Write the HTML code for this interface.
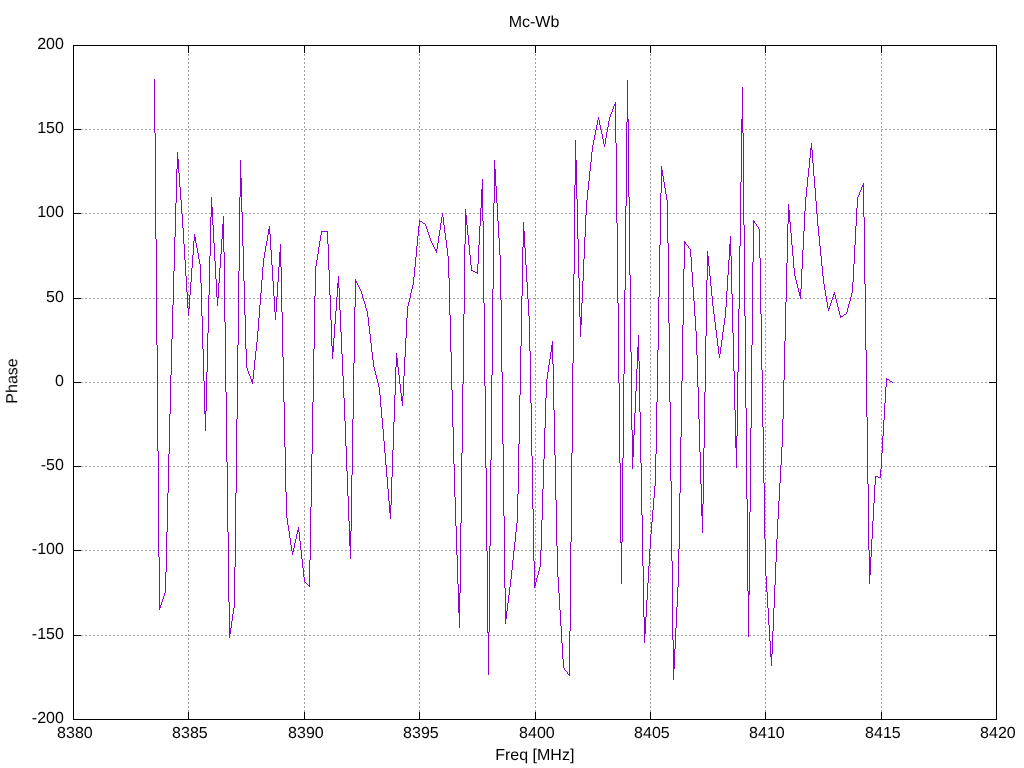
<!DOCTYPE html>
<html><head><meta charset="utf-8"><title>Mc-Wb</title>
<style>
html,body{margin:0;padding:0;background:#fff;overflow:hidden}
svg{display:block}
text{font-family:"Liberation Sans",Arial,sans-serif;font-size:16px;fill:#000}
</style></head><body>
<svg width="1024" height="768" viewBox="0 0 1024 768">
<rect width="1024" height="768" fill="#fff"/>
<path d="M73 129h1v1h-1zM74 129h1v1h-1zM77 129h1v1h-1zM78 129h1v1h-1zM81 129h1v1h-1zM82 129h1v1h-1zM85 129h1v1h-1zM86 129h1v1h-1zM89 129h1v1h-1zM90 129h1v1h-1zM93 129h1v1h-1zM94 129h1v1h-1zM97 129h1v1h-1zM98 129h1v1h-1zM101 129h1v1h-1zM102 129h1v1h-1zM105 129h1v1h-1zM106 129h1v1h-1zM109 129h1v1h-1zM110 129h1v1h-1zM113 129h1v1h-1zM114 129h1v1h-1zM117 129h1v1h-1zM118 129h1v1h-1zM121 129h1v1h-1zM122 129h1v1h-1zM125 129h1v1h-1zM126 129h1v1h-1zM129 129h1v1h-1zM130 129h1v1h-1zM133 129h1v1h-1zM134 129h1v1h-1zM137 129h1v1h-1zM138 129h1v1h-1zM141 129h1v1h-1zM142 129h1v1h-1zM145 129h1v1h-1zM146 129h1v1h-1zM149 129h1v1h-1zM150 129h1v1h-1zM153 129h1v1h-1zM154 129h1v1h-1zM157 129h1v1h-1zM158 129h1v1h-1zM161 129h1v1h-1zM162 129h1v1h-1zM165 129h1v1h-1zM166 129h1v1h-1zM169 129h1v1h-1zM170 129h1v1h-1zM173 129h1v1h-1zM174 129h1v1h-1zM177 129h1v1h-1zM178 129h1v1h-1zM181 129h1v1h-1zM182 129h1v1h-1zM185 129h1v1h-1zM186 129h1v1h-1zM189 129h1v1h-1zM190 129h1v1h-1zM193 129h1v1h-1zM194 129h1v1h-1zM197 129h1v1h-1zM198 129h1v1h-1zM201 129h1v1h-1zM202 129h1v1h-1zM205 129h1v1h-1zM206 129h1v1h-1zM209 129h1v1h-1zM210 129h1v1h-1zM213 129h1v1h-1zM214 129h1v1h-1zM217 129h1v1h-1zM218 129h1v1h-1zM221 129h1v1h-1zM222 129h1v1h-1zM225 129h1v1h-1zM226 129h1v1h-1zM229 129h1v1h-1zM230 129h1v1h-1zM233 129h1v1h-1zM234 129h1v1h-1zM237 129h1v1h-1zM238 129h1v1h-1zM241 129h1v1h-1zM242 129h1v1h-1zM245 129h1v1h-1zM246 129h1v1h-1zM249 129h1v1h-1zM250 129h1v1h-1zM253 129h1v1h-1zM254 129h1v1h-1zM257 129h1v1h-1zM258 129h1v1h-1zM261 129h1v1h-1zM262 129h1v1h-1zM265 129h1v1h-1zM266 129h1v1h-1zM269 129h1v1h-1zM270 129h1v1h-1zM273 129h1v1h-1zM274 129h1v1h-1zM277 129h1v1h-1zM278 129h1v1h-1zM281 129h1v1h-1zM282 129h1v1h-1zM285 129h1v1h-1zM286 129h1v1h-1zM289 129h1v1h-1zM290 129h1v1h-1zM293 129h1v1h-1zM294 129h1v1h-1zM297 129h1v1h-1zM298 129h1v1h-1zM301 129h1v1h-1zM302 129h1v1h-1zM305 129h1v1h-1zM306 129h1v1h-1zM309 129h1v1h-1zM310 129h1v1h-1zM313 129h1v1h-1zM314 129h1v1h-1zM317 129h1v1h-1zM318 129h1v1h-1zM321 129h1v1h-1zM322 129h1v1h-1zM325 129h1v1h-1zM326 129h1v1h-1zM329 129h1v1h-1zM330 129h1v1h-1zM333 129h1v1h-1zM334 129h1v1h-1zM337 129h1v1h-1zM338 129h1v1h-1zM341 129h1v1h-1zM342 129h1v1h-1zM345 129h1v1h-1zM346 129h1v1h-1zM349 129h1v1h-1zM350 129h1v1h-1zM353 129h1v1h-1zM354 129h1v1h-1zM357 129h1v1h-1zM358 129h1v1h-1zM361 129h1v1h-1zM362 129h1v1h-1zM365 129h1v1h-1zM366 129h1v1h-1zM369 129h1v1h-1zM370 129h1v1h-1zM373 129h1v1h-1zM374 129h1v1h-1zM377 129h1v1h-1zM378 129h1v1h-1zM381 129h1v1h-1zM382 129h1v1h-1zM385 129h1v1h-1zM386 129h1v1h-1zM389 129h1v1h-1zM390 129h1v1h-1zM393 129h1v1h-1zM394 129h1v1h-1zM397 129h1v1h-1zM398 129h1v1h-1zM401 129h1v1h-1zM402 129h1v1h-1zM405 129h1v1h-1zM406 129h1v1h-1zM409 129h1v1h-1zM410 129h1v1h-1zM413 129h1v1h-1zM414 129h1v1h-1zM417 129h1v1h-1zM418 129h1v1h-1zM421 129h1v1h-1zM422 129h1v1h-1zM425 129h1v1h-1zM426 129h1v1h-1zM429 129h1v1h-1zM430 129h1v1h-1zM433 129h1v1h-1zM434 129h1v1h-1zM437 129h1v1h-1zM438 129h1v1h-1zM441 129h1v1h-1zM442 129h1v1h-1zM445 129h1v1h-1zM446 129h1v1h-1zM449 129h1v1h-1zM450 129h1v1h-1zM453 129h1v1h-1zM454 129h1v1h-1zM457 129h1v1h-1zM458 129h1v1h-1zM461 129h1v1h-1zM462 129h1v1h-1zM465 129h1v1h-1zM466 129h1v1h-1zM469 129h1v1h-1zM470 129h1v1h-1zM473 129h1v1h-1zM474 129h1v1h-1zM477 129h1v1h-1zM478 129h1v1h-1zM481 129h1v1h-1zM482 129h1v1h-1zM485 129h1v1h-1zM486 129h1v1h-1zM489 129h1v1h-1zM490 129h1v1h-1zM493 129h1v1h-1zM494 129h1v1h-1zM497 129h1v1h-1zM498 129h1v1h-1zM501 129h1v1h-1zM502 129h1v1h-1zM505 129h1v1h-1zM506 129h1v1h-1zM509 129h1v1h-1zM510 129h1v1h-1zM513 129h1v1h-1zM514 129h1v1h-1zM517 129h1v1h-1zM518 129h1v1h-1zM521 129h1v1h-1zM522 129h1v1h-1zM525 129h1v1h-1zM526 129h1v1h-1zM529 129h1v1h-1zM530 129h1v1h-1zM533 129h1v1h-1zM534 129h1v1h-1zM537 129h1v1h-1zM538 129h1v1h-1zM541 129h1v1h-1zM542 129h1v1h-1zM545 129h1v1h-1zM546 129h1v1h-1zM549 129h1v1h-1zM550 129h1v1h-1zM553 129h1v1h-1zM554 129h1v1h-1zM557 129h1v1h-1zM558 129h1v1h-1zM561 129h1v1h-1zM562 129h1v1h-1zM565 129h1v1h-1zM566 129h1v1h-1zM569 129h1v1h-1zM570 129h1v1h-1zM573 129h1v1h-1zM574 129h1v1h-1zM577 129h1v1h-1zM578 129h1v1h-1zM581 129h1v1h-1zM582 129h1v1h-1zM585 129h1v1h-1zM586 129h1v1h-1zM589 129h1v1h-1zM590 129h1v1h-1zM593 129h1v1h-1zM594 129h1v1h-1zM597 129h1v1h-1zM598 129h1v1h-1zM601 129h1v1h-1zM602 129h1v1h-1zM605 129h1v1h-1zM606 129h1v1h-1zM609 129h1v1h-1zM610 129h1v1h-1zM613 129h1v1h-1zM614 129h1v1h-1zM617 129h1v1h-1zM618 129h1v1h-1zM621 129h1v1h-1zM622 129h1v1h-1zM625 129h1v1h-1zM626 129h1v1h-1zM629 129h1v1h-1zM630 129h1v1h-1zM633 129h1v1h-1zM634 129h1v1h-1zM637 129h1v1h-1zM638 129h1v1h-1zM641 129h1v1h-1zM642 129h1v1h-1zM645 129h1v1h-1zM646 129h1v1h-1zM649 129h1v1h-1zM650 129h1v1h-1zM653 129h1v1h-1zM654 129h1v1h-1zM657 129h1v1h-1zM658 129h1v1h-1zM661 129h1v1h-1zM662 129h1v1h-1zM665 129h1v1h-1zM666 129h1v1h-1zM669 129h1v1h-1zM670 129h1v1h-1zM673 129h1v1h-1zM674 129h1v1h-1zM677 129h1v1h-1zM678 129h1v1h-1zM681 129h1v1h-1zM682 129h1v1h-1zM685 129h1v1h-1zM686 129h1v1h-1zM689 129h1v1h-1zM690 129h1v1h-1zM693 129h1v1h-1zM694 129h1v1h-1zM697 129h1v1h-1zM698 129h1v1h-1zM701 129h1v1h-1zM702 129h1v1h-1zM705 129h1v1h-1zM706 129h1v1h-1zM709 129h1v1h-1zM710 129h1v1h-1zM713 129h1v1h-1zM714 129h1v1h-1zM717 129h1v1h-1zM718 129h1v1h-1zM721 129h1v1h-1zM722 129h1v1h-1zM725 129h1v1h-1zM726 129h1v1h-1zM729 129h1v1h-1zM730 129h1v1h-1zM733 129h1v1h-1zM734 129h1v1h-1zM737 129h1v1h-1zM738 129h1v1h-1zM741 129h1v1h-1zM742 129h1v1h-1zM745 129h1v1h-1zM746 129h1v1h-1zM749 129h1v1h-1zM750 129h1v1h-1zM753 129h1v1h-1zM754 129h1v1h-1zM757 129h1v1h-1zM758 129h1v1h-1zM761 129h1v1h-1zM762 129h1v1h-1zM765 129h1v1h-1zM766 129h1v1h-1zM769 129h1v1h-1zM770 129h1v1h-1zM773 129h1v1h-1zM774 129h1v1h-1zM777 129h1v1h-1zM778 129h1v1h-1zM781 129h1v1h-1zM782 129h1v1h-1zM785 129h1v1h-1zM786 129h1v1h-1zM789 129h1v1h-1zM790 129h1v1h-1zM793 129h1v1h-1zM794 129h1v1h-1zM797 129h1v1h-1zM798 129h1v1h-1zM801 129h1v1h-1zM802 129h1v1h-1zM805 129h1v1h-1zM806 129h1v1h-1zM809 129h1v1h-1zM810 129h1v1h-1zM813 129h1v1h-1zM814 129h1v1h-1zM817 129h1v1h-1zM818 129h1v1h-1zM821 129h1v1h-1zM822 129h1v1h-1zM825 129h1v1h-1zM826 129h1v1h-1zM829 129h1v1h-1zM830 129h1v1h-1zM833 129h1v1h-1zM834 129h1v1h-1zM837 129h1v1h-1zM838 129h1v1h-1zM841 129h1v1h-1zM842 129h1v1h-1zM845 129h1v1h-1zM846 129h1v1h-1zM849 129h1v1h-1zM850 129h1v1h-1zM853 129h1v1h-1zM854 129h1v1h-1zM857 129h1v1h-1zM858 129h1v1h-1zM861 129h1v1h-1zM862 129h1v1h-1zM865 129h1v1h-1zM866 129h1v1h-1zM869 129h1v1h-1zM870 129h1v1h-1zM873 129h1v1h-1zM874 129h1v1h-1zM877 129h1v1h-1zM878 129h1v1h-1zM881 129h1v1h-1zM882 129h1v1h-1zM885 129h1v1h-1zM886 129h1v1h-1zM889 129h1v1h-1zM890 129h1v1h-1zM893 129h1v1h-1zM894 129h1v1h-1zM897 129h1v1h-1zM898 129h1v1h-1zM901 129h1v1h-1zM902 129h1v1h-1zM905 129h1v1h-1zM906 129h1v1h-1zM909 129h1v1h-1zM910 129h1v1h-1zM913 129h1v1h-1zM914 129h1v1h-1zM917 129h1v1h-1zM918 129h1v1h-1zM921 129h1v1h-1zM922 129h1v1h-1zM925 129h1v1h-1zM926 129h1v1h-1zM929 129h1v1h-1zM930 129h1v1h-1zM933 129h1v1h-1zM934 129h1v1h-1zM937 129h1v1h-1zM938 129h1v1h-1zM941 129h1v1h-1zM942 129h1v1h-1zM945 129h1v1h-1zM946 129h1v1h-1zM949 129h1v1h-1zM950 129h1v1h-1zM953 129h1v1h-1zM954 129h1v1h-1zM957 129h1v1h-1zM958 129h1v1h-1zM961 129h1v1h-1zM962 129h1v1h-1zM965 129h1v1h-1zM966 129h1v1h-1zM969 129h1v1h-1zM970 129h1v1h-1zM973 129h1v1h-1zM974 129h1v1h-1zM977 129h1v1h-1zM978 129h1v1h-1zM981 129h1v1h-1zM982 129h1v1h-1zM985 129h1v1h-1zM986 129h1v1h-1zM989 129h1v1h-1zM990 129h1v1h-1zM993 129h1v1h-1zM994 129h1v1h-1zM73 213h1v1h-1zM74 213h1v1h-1zM77 213h1v1h-1zM78 213h1v1h-1zM81 213h1v1h-1zM82 213h1v1h-1zM85 213h1v1h-1zM86 213h1v1h-1zM89 213h1v1h-1zM90 213h1v1h-1zM93 213h1v1h-1zM94 213h1v1h-1zM97 213h1v1h-1zM98 213h1v1h-1zM101 213h1v1h-1zM102 213h1v1h-1zM105 213h1v1h-1zM106 213h1v1h-1zM109 213h1v1h-1zM110 213h1v1h-1zM113 213h1v1h-1zM114 213h1v1h-1zM117 213h1v1h-1zM118 213h1v1h-1zM121 213h1v1h-1zM122 213h1v1h-1zM125 213h1v1h-1zM126 213h1v1h-1zM129 213h1v1h-1zM130 213h1v1h-1zM133 213h1v1h-1zM134 213h1v1h-1zM137 213h1v1h-1zM138 213h1v1h-1zM141 213h1v1h-1zM142 213h1v1h-1zM145 213h1v1h-1zM146 213h1v1h-1zM149 213h1v1h-1zM150 213h1v1h-1zM153 213h1v1h-1zM154 213h1v1h-1zM157 213h1v1h-1zM158 213h1v1h-1zM161 213h1v1h-1zM162 213h1v1h-1zM165 213h1v1h-1zM166 213h1v1h-1zM169 213h1v1h-1zM170 213h1v1h-1zM173 213h1v1h-1zM174 213h1v1h-1zM177 213h1v1h-1zM178 213h1v1h-1zM181 213h1v1h-1zM182 213h1v1h-1zM185 213h1v1h-1zM186 213h1v1h-1zM189 213h1v1h-1zM190 213h1v1h-1zM193 213h1v1h-1zM194 213h1v1h-1zM197 213h1v1h-1zM198 213h1v1h-1zM201 213h1v1h-1zM202 213h1v1h-1zM205 213h1v1h-1zM206 213h1v1h-1zM209 213h1v1h-1zM210 213h1v1h-1zM213 213h1v1h-1zM214 213h1v1h-1zM217 213h1v1h-1zM218 213h1v1h-1zM221 213h1v1h-1zM222 213h1v1h-1zM225 213h1v1h-1zM226 213h1v1h-1zM229 213h1v1h-1zM230 213h1v1h-1zM233 213h1v1h-1zM234 213h1v1h-1zM237 213h1v1h-1zM238 213h1v1h-1zM241 213h1v1h-1zM242 213h1v1h-1zM245 213h1v1h-1zM246 213h1v1h-1zM249 213h1v1h-1zM250 213h1v1h-1zM253 213h1v1h-1zM254 213h1v1h-1zM257 213h1v1h-1zM258 213h1v1h-1zM261 213h1v1h-1zM262 213h1v1h-1zM265 213h1v1h-1zM266 213h1v1h-1zM269 213h1v1h-1zM270 213h1v1h-1zM273 213h1v1h-1zM274 213h1v1h-1zM277 213h1v1h-1zM278 213h1v1h-1zM281 213h1v1h-1zM282 213h1v1h-1zM285 213h1v1h-1zM286 213h1v1h-1zM289 213h1v1h-1zM290 213h1v1h-1zM293 213h1v1h-1zM294 213h1v1h-1zM297 213h1v1h-1zM298 213h1v1h-1zM301 213h1v1h-1zM302 213h1v1h-1zM305 213h1v1h-1zM306 213h1v1h-1zM309 213h1v1h-1zM310 213h1v1h-1zM313 213h1v1h-1zM314 213h1v1h-1zM317 213h1v1h-1zM318 213h1v1h-1zM321 213h1v1h-1zM322 213h1v1h-1zM325 213h1v1h-1zM326 213h1v1h-1zM329 213h1v1h-1zM330 213h1v1h-1zM333 213h1v1h-1zM334 213h1v1h-1zM337 213h1v1h-1zM338 213h1v1h-1zM341 213h1v1h-1zM342 213h1v1h-1zM345 213h1v1h-1zM346 213h1v1h-1zM349 213h1v1h-1zM350 213h1v1h-1zM353 213h1v1h-1zM354 213h1v1h-1zM357 213h1v1h-1zM358 213h1v1h-1zM361 213h1v1h-1zM362 213h1v1h-1zM365 213h1v1h-1zM366 213h1v1h-1zM369 213h1v1h-1zM370 213h1v1h-1zM373 213h1v1h-1zM374 213h1v1h-1zM377 213h1v1h-1zM378 213h1v1h-1zM381 213h1v1h-1zM382 213h1v1h-1zM385 213h1v1h-1zM386 213h1v1h-1zM389 213h1v1h-1zM390 213h1v1h-1zM393 213h1v1h-1zM394 213h1v1h-1zM397 213h1v1h-1zM398 213h1v1h-1zM401 213h1v1h-1zM402 213h1v1h-1zM405 213h1v1h-1zM406 213h1v1h-1zM409 213h1v1h-1zM410 213h1v1h-1zM413 213h1v1h-1zM414 213h1v1h-1zM417 213h1v1h-1zM418 213h1v1h-1zM421 213h1v1h-1zM422 213h1v1h-1zM425 213h1v1h-1zM426 213h1v1h-1zM429 213h1v1h-1zM430 213h1v1h-1zM433 213h1v1h-1zM434 213h1v1h-1zM437 213h1v1h-1zM438 213h1v1h-1zM441 213h1v1h-1zM442 213h1v1h-1zM445 213h1v1h-1zM446 213h1v1h-1zM449 213h1v1h-1zM450 213h1v1h-1zM453 213h1v1h-1zM454 213h1v1h-1zM457 213h1v1h-1zM458 213h1v1h-1zM461 213h1v1h-1zM462 213h1v1h-1zM465 213h1v1h-1zM466 213h1v1h-1zM469 213h1v1h-1zM470 213h1v1h-1zM473 213h1v1h-1zM474 213h1v1h-1zM477 213h1v1h-1zM478 213h1v1h-1zM481 213h1v1h-1zM482 213h1v1h-1zM485 213h1v1h-1zM486 213h1v1h-1zM489 213h1v1h-1zM490 213h1v1h-1zM493 213h1v1h-1zM494 213h1v1h-1zM497 213h1v1h-1zM498 213h1v1h-1zM501 213h1v1h-1zM502 213h1v1h-1zM505 213h1v1h-1zM506 213h1v1h-1zM509 213h1v1h-1zM510 213h1v1h-1zM513 213h1v1h-1zM514 213h1v1h-1zM517 213h1v1h-1zM518 213h1v1h-1zM521 213h1v1h-1zM522 213h1v1h-1zM525 213h1v1h-1zM526 213h1v1h-1zM529 213h1v1h-1zM530 213h1v1h-1zM533 213h1v1h-1zM534 213h1v1h-1zM537 213h1v1h-1zM538 213h1v1h-1zM541 213h1v1h-1zM542 213h1v1h-1zM545 213h1v1h-1zM546 213h1v1h-1zM549 213h1v1h-1zM550 213h1v1h-1zM553 213h1v1h-1zM554 213h1v1h-1zM557 213h1v1h-1zM558 213h1v1h-1zM561 213h1v1h-1zM562 213h1v1h-1zM565 213h1v1h-1zM566 213h1v1h-1zM569 213h1v1h-1zM570 213h1v1h-1zM573 213h1v1h-1zM574 213h1v1h-1zM577 213h1v1h-1zM578 213h1v1h-1zM581 213h1v1h-1zM582 213h1v1h-1zM585 213h1v1h-1zM586 213h1v1h-1zM589 213h1v1h-1zM590 213h1v1h-1zM593 213h1v1h-1zM594 213h1v1h-1zM597 213h1v1h-1zM598 213h1v1h-1zM601 213h1v1h-1zM602 213h1v1h-1zM605 213h1v1h-1zM606 213h1v1h-1zM609 213h1v1h-1zM610 213h1v1h-1zM613 213h1v1h-1zM614 213h1v1h-1zM617 213h1v1h-1zM618 213h1v1h-1zM621 213h1v1h-1zM622 213h1v1h-1zM625 213h1v1h-1zM626 213h1v1h-1zM629 213h1v1h-1zM630 213h1v1h-1zM633 213h1v1h-1zM634 213h1v1h-1zM637 213h1v1h-1zM638 213h1v1h-1zM641 213h1v1h-1zM642 213h1v1h-1zM645 213h1v1h-1zM646 213h1v1h-1zM649 213h1v1h-1zM650 213h1v1h-1zM653 213h1v1h-1zM654 213h1v1h-1zM657 213h1v1h-1zM658 213h1v1h-1zM661 213h1v1h-1zM662 213h1v1h-1zM665 213h1v1h-1zM666 213h1v1h-1zM669 213h1v1h-1zM670 213h1v1h-1zM673 213h1v1h-1zM674 213h1v1h-1zM677 213h1v1h-1zM678 213h1v1h-1zM681 213h1v1h-1zM682 213h1v1h-1zM685 213h1v1h-1zM686 213h1v1h-1zM689 213h1v1h-1zM690 213h1v1h-1zM693 213h1v1h-1zM694 213h1v1h-1zM697 213h1v1h-1zM698 213h1v1h-1zM701 213h1v1h-1zM702 213h1v1h-1zM705 213h1v1h-1zM706 213h1v1h-1zM709 213h1v1h-1zM710 213h1v1h-1zM713 213h1v1h-1zM714 213h1v1h-1zM717 213h1v1h-1zM718 213h1v1h-1zM721 213h1v1h-1zM722 213h1v1h-1zM725 213h1v1h-1zM726 213h1v1h-1zM729 213h1v1h-1zM730 213h1v1h-1zM733 213h1v1h-1zM734 213h1v1h-1zM737 213h1v1h-1zM738 213h1v1h-1zM741 213h1v1h-1zM742 213h1v1h-1zM745 213h1v1h-1zM746 213h1v1h-1zM749 213h1v1h-1zM750 213h1v1h-1zM753 213h1v1h-1zM754 213h1v1h-1zM757 213h1v1h-1zM758 213h1v1h-1zM761 213h1v1h-1zM762 213h1v1h-1zM765 213h1v1h-1zM766 213h1v1h-1zM769 213h1v1h-1zM770 213h1v1h-1zM773 213h1v1h-1zM774 213h1v1h-1zM777 213h1v1h-1zM778 213h1v1h-1zM781 213h1v1h-1zM782 213h1v1h-1zM785 213h1v1h-1zM786 213h1v1h-1zM789 213h1v1h-1zM790 213h1v1h-1zM793 213h1v1h-1zM794 213h1v1h-1zM797 213h1v1h-1zM798 213h1v1h-1zM801 213h1v1h-1zM802 213h1v1h-1zM805 213h1v1h-1zM806 213h1v1h-1zM809 213h1v1h-1zM810 213h1v1h-1zM813 213h1v1h-1zM814 213h1v1h-1zM817 213h1v1h-1zM818 213h1v1h-1zM821 213h1v1h-1zM822 213h1v1h-1zM825 213h1v1h-1zM826 213h1v1h-1zM829 213h1v1h-1zM830 213h1v1h-1zM833 213h1v1h-1zM834 213h1v1h-1zM837 213h1v1h-1zM838 213h1v1h-1zM841 213h1v1h-1zM842 213h1v1h-1zM845 213h1v1h-1zM846 213h1v1h-1zM849 213h1v1h-1zM850 213h1v1h-1zM853 213h1v1h-1zM854 213h1v1h-1zM857 213h1v1h-1zM858 213h1v1h-1zM861 213h1v1h-1zM862 213h1v1h-1zM865 213h1v1h-1zM866 213h1v1h-1zM869 213h1v1h-1zM870 213h1v1h-1zM873 213h1v1h-1zM874 213h1v1h-1zM877 213h1v1h-1zM878 213h1v1h-1zM881 213h1v1h-1zM882 213h1v1h-1zM885 213h1v1h-1zM886 213h1v1h-1zM889 213h1v1h-1zM890 213h1v1h-1zM893 213h1v1h-1zM894 213h1v1h-1zM897 213h1v1h-1zM898 213h1v1h-1zM901 213h1v1h-1zM902 213h1v1h-1zM905 213h1v1h-1zM906 213h1v1h-1zM909 213h1v1h-1zM910 213h1v1h-1zM913 213h1v1h-1zM914 213h1v1h-1zM917 213h1v1h-1zM918 213h1v1h-1zM921 213h1v1h-1zM922 213h1v1h-1zM925 213h1v1h-1zM926 213h1v1h-1zM929 213h1v1h-1zM930 213h1v1h-1zM933 213h1v1h-1zM934 213h1v1h-1zM937 213h1v1h-1zM938 213h1v1h-1zM941 213h1v1h-1zM942 213h1v1h-1zM945 213h1v1h-1zM946 213h1v1h-1zM949 213h1v1h-1zM950 213h1v1h-1zM953 213h1v1h-1zM954 213h1v1h-1zM957 213h1v1h-1zM958 213h1v1h-1zM961 213h1v1h-1zM962 213h1v1h-1zM965 213h1v1h-1zM966 213h1v1h-1zM969 213h1v1h-1zM970 213h1v1h-1zM973 213h1v1h-1zM974 213h1v1h-1zM977 213h1v1h-1zM978 213h1v1h-1zM981 213h1v1h-1zM982 213h1v1h-1zM985 213h1v1h-1zM986 213h1v1h-1zM989 213h1v1h-1zM990 213h1v1h-1zM993 213h1v1h-1zM994 213h1v1h-1zM73 298h1v1h-1zM74 298h1v1h-1zM77 298h1v1h-1zM78 298h1v1h-1zM81 298h1v1h-1zM82 298h1v1h-1zM85 298h1v1h-1zM86 298h1v1h-1zM89 298h1v1h-1zM90 298h1v1h-1zM93 298h1v1h-1zM94 298h1v1h-1zM97 298h1v1h-1zM98 298h1v1h-1zM101 298h1v1h-1zM102 298h1v1h-1zM105 298h1v1h-1zM106 298h1v1h-1zM109 298h1v1h-1zM110 298h1v1h-1zM113 298h1v1h-1zM114 298h1v1h-1zM117 298h1v1h-1zM118 298h1v1h-1zM121 298h1v1h-1zM122 298h1v1h-1zM125 298h1v1h-1zM126 298h1v1h-1zM129 298h1v1h-1zM130 298h1v1h-1zM133 298h1v1h-1zM134 298h1v1h-1zM137 298h1v1h-1zM138 298h1v1h-1zM141 298h1v1h-1zM142 298h1v1h-1zM145 298h1v1h-1zM146 298h1v1h-1zM149 298h1v1h-1zM150 298h1v1h-1zM153 298h1v1h-1zM154 298h1v1h-1zM157 298h1v1h-1zM158 298h1v1h-1zM161 298h1v1h-1zM162 298h1v1h-1zM165 298h1v1h-1zM166 298h1v1h-1zM169 298h1v1h-1zM170 298h1v1h-1zM173 298h1v1h-1zM174 298h1v1h-1zM177 298h1v1h-1zM178 298h1v1h-1zM181 298h1v1h-1zM182 298h1v1h-1zM185 298h1v1h-1zM186 298h1v1h-1zM189 298h1v1h-1zM190 298h1v1h-1zM193 298h1v1h-1zM194 298h1v1h-1zM197 298h1v1h-1zM198 298h1v1h-1zM201 298h1v1h-1zM202 298h1v1h-1zM205 298h1v1h-1zM206 298h1v1h-1zM209 298h1v1h-1zM210 298h1v1h-1zM213 298h1v1h-1zM214 298h1v1h-1zM217 298h1v1h-1zM218 298h1v1h-1zM221 298h1v1h-1zM222 298h1v1h-1zM225 298h1v1h-1zM226 298h1v1h-1zM229 298h1v1h-1zM230 298h1v1h-1zM233 298h1v1h-1zM234 298h1v1h-1zM237 298h1v1h-1zM238 298h1v1h-1zM241 298h1v1h-1zM242 298h1v1h-1zM245 298h1v1h-1zM246 298h1v1h-1zM249 298h1v1h-1zM250 298h1v1h-1zM253 298h1v1h-1zM254 298h1v1h-1zM257 298h1v1h-1zM258 298h1v1h-1zM261 298h1v1h-1zM262 298h1v1h-1zM265 298h1v1h-1zM266 298h1v1h-1zM269 298h1v1h-1zM270 298h1v1h-1zM273 298h1v1h-1zM274 298h1v1h-1zM277 298h1v1h-1zM278 298h1v1h-1zM281 298h1v1h-1zM282 298h1v1h-1zM285 298h1v1h-1zM286 298h1v1h-1zM289 298h1v1h-1zM290 298h1v1h-1zM293 298h1v1h-1zM294 298h1v1h-1zM297 298h1v1h-1zM298 298h1v1h-1zM301 298h1v1h-1zM302 298h1v1h-1zM305 298h1v1h-1zM306 298h1v1h-1zM309 298h1v1h-1zM310 298h1v1h-1zM313 298h1v1h-1zM314 298h1v1h-1zM317 298h1v1h-1zM318 298h1v1h-1zM321 298h1v1h-1zM322 298h1v1h-1zM325 298h1v1h-1zM326 298h1v1h-1zM329 298h1v1h-1zM330 298h1v1h-1zM333 298h1v1h-1zM334 298h1v1h-1zM337 298h1v1h-1zM338 298h1v1h-1zM341 298h1v1h-1zM342 298h1v1h-1zM345 298h1v1h-1zM346 298h1v1h-1zM349 298h1v1h-1zM350 298h1v1h-1zM353 298h1v1h-1zM354 298h1v1h-1zM357 298h1v1h-1zM358 298h1v1h-1zM361 298h1v1h-1zM362 298h1v1h-1zM365 298h1v1h-1zM366 298h1v1h-1zM369 298h1v1h-1zM370 298h1v1h-1zM373 298h1v1h-1zM374 298h1v1h-1zM377 298h1v1h-1zM378 298h1v1h-1zM381 298h1v1h-1zM382 298h1v1h-1zM385 298h1v1h-1zM386 298h1v1h-1zM389 298h1v1h-1zM390 298h1v1h-1zM393 298h1v1h-1zM394 298h1v1h-1zM397 298h1v1h-1zM398 298h1v1h-1zM401 298h1v1h-1zM402 298h1v1h-1zM405 298h1v1h-1zM406 298h1v1h-1zM409 298h1v1h-1zM410 298h1v1h-1zM413 298h1v1h-1zM414 298h1v1h-1zM417 298h1v1h-1zM418 298h1v1h-1zM421 298h1v1h-1zM422 298h1v1h-1zM425 298h1v1h-1zM426 298h1v1h-1zM429 298h1v1h-1zM430 298h1v1h-1zM433 298h1v1h-1zM434 298h1v1h-1zM437 298h1v1h-1zM438 298h1v1h-1zM441 298h1v1h-1zM442 298h1v1h-1zM445 298h1v1h-1zM446 298h1v1h-1zM449 298h1v1h-1zM450 298h1v1h-1zM453 298h1v1h-1zM454 298h1v1h-1zM457 298h1v1h-1zM458 298h1v1h-1zM461 298h1v1h-1zM462 298h1v1h-1zM465 298h1v1h-1zM466 298h1v1h-1zM469 298h1v1h-1zM470 298h1v1h-1zM473 298h1v1h-1zM474 298h1v1h-1zM477 298h1v1h-1zM478 298h1v1h-1zM481 298h1v1h-1zM482 298h1v1h-1zM485 298h1v1h-1zM486 298h1v1h-1zM489 298h1v1h-1zM490 298h1v1h-1zM493 298h1v1h-1zM494 298h1v1h-1zM497 298h1v1h-1zM498 298h1v1h-1zM501 298h1v1h-1zM502 298h1v1h-1zM505 298h1v1h-1zM506 298h1v1h-1zM509 298h1v1h-1zM510 298h1v1h-1zM513 298h1v1h-1zM514 298h1v1h-1zM517 298h1v1h-1zM518 298h1v1h-1zM521 298h1v1h-1zM522 298h1v1h-1zM525 298h1v1h-1zM526 298h1v1h-1zM529 298h1v1h-1zM530 298h1v1h-1zM533 298h1v1h-1zM534 298h1v1h-1zM537 298h1v1h-1zM538 298h1v1h-1zM541 298h1v1h-1zM542 298h1v1h-1zM545 298h1v1h-1zM546 298h1v1h-1zM549 298h1v1h-1zM550 298h1v1h-1zM553 298h1v1h-1zM554 298h1v1h-1zM557 298h1v1h-1zM558 298h1v1h-1zM561 298h1v1h-1zM562 298h1v1h-1zM565 298h1v1h-1zM566 298h1v1h-1zM569 298h1v1h-1zM570 298h1v1h-1zM573 298h1v1h-1zM574 298h1v1h-1zM577 298h1v1h-1zM578 298h1v1h-1zM581 298h1v1h-1zM582 298h1v1h-1zM585 298h1v1h-1zM586 298h1v1h-1zM589 298h1v1h-1zM590 298h1v1h-1zM593 298h1v1h-1zM594 298h1v1h-1zM597 298h1v1h-1zM598 298h1v1h-1zM601 298h1v1h-1zM602 298h1v1h-1zM605 298h1v1h-1zM606 298h1v1h-1zM609 298h1v1h-1zM610 298h1v1h-1zM613 298h1v1h-1zM614 298h1v1h-1zM617 298h1v1h-1zM618 298h1v1h-1zM621 298h1v1h-1zM622 298h1v1h-1zM625 298h1v1h-1zM626 298h1v1h-1zM629 298h1v1h-1zM630 298h1v1h-1zM633 298h1v1h-1zM634 298h1v1h-1zM637 298h1v1h-1zM638 298h1v1h-1zM641 298h1v1h-1zM642 298h1v1h-1zM645 298h1v1h-1zM646 298h1v1h-1zM649 298h1v1h-1zM650 298h1v1h-1zM653 298h1v1h-1zM654 298h1v1h-1zM657 298h1v1h-1zM658 298h1v1h-1zM661 298h1v1h-1zM662 298h1v1h-1zM665 298h1v1h-1zM666 298h1v1h-1zM669 298h1v1h-1zM670 298h1v1h-1zM673 298h1v1h-1zM674 298h1v1h-1zM677 298h1v1h-1zM678 298h1v1h-1zM681 298h1v1h-1zM682 298h1v1h-1zM685 298h1v1h-1zM686 298h1v1h-1zM689 298h1v1h-1zM690 298h1v1h-1zM693 298h1v1h-1zM694 298h1v1h-1zM697 298h1v1h-1zM698 298h1v1h-1zM701 298h1v1h-1zM702 298h1v1h-1zM705 298h1v1h-1zM706 298h1v1h-1zM709 298h1v1h-1zM710 298h1v1h-1zM713 298h1v1h-1zM714 298h1v1h-1zM717 298h1v1h-1zM718 298h1v1h-1zM721 298h1v1h-1zM722 298h1v1h-1zM725 298h1v1h-1zM726 298h1v1h-1zM729 298h1v1h-1zM730 298h1v1h-1zM733 298h1v1h-1zM734 298h1v1h-1zM737 298h1v1h-1zM738 298h1v1h-1zM741 298h1v1h-1zM742 298h1v1h-1zM745 298h1v1h-1zM746 298h1v1h-1zM749 298h1v1h-1zM750 298h1v1h-1zM753 298h1v1h-1zM754 298h1v1h-1zM757 298h1v1h-1zM758 298h1v1h-1zM761 298h1v1h-1zM762 298h1v1h-1zM765 298h1v1h-1zM766 298h1v1h-1zM769 298h1v1h-1zM770 298h1v1h-1zM773 298h1v1h-1zM774 298h1v1h-1zM777 298h1v1h-1zM778 298h1v1h-1zM781 298h1v1h-1zM782 298h1v1h-1zM785 298h1v1h-1zM786 298h1v1h-1zM789 298h1v1h-1zM790 298h1v1h-1zM793 298h1v1h-1zM794 298h1v1h-1zM797 298h1v1h-1zM798 298h1v1h-1zM801 298h1v1h-1zM802 298h1v1h-1zM805 298h1v1h-1zM806 298h1v1h-1zM809 298h1v1h-1zM810 298h1v1h-1zM813 298h1v1h-1zM814 298h1v1h-1zM817 298h1v1h-1zM818 298h1v1h-1zM821 298h1v1h-1zM822 298h1v1h-1zM825 298h1v1h-1zM826 298h1v1h-1zM829 298h1v1h-1zM830 298h1v1h-1zM833 298h1v1h-1zM834 298h1v1h-1zM837 298h1v1h-1zM838 298h1v1h-1zM841 298h1v1h-1zM842 298h1v1h-1zM845 298h1v1h-1zM846 298h1v1h-1zM849 298h1v1h-1zM850 298h1v1h-1zM853 298h1v1h-1zM854 298h1v1h-1zM857 298h1v1h-1zM858 298h1v1h-1zM861 298h1v1h-1zM862 298h1v1h-1zM865 298h1v1h-1zM866 298h1v1h-1zM869 298h1v1h-1zM870 298h1v1h-1zM873 298h1v1h-1zM874 298h1v1h-1zM877 298h1v1h-1zM878 298h1v1h-1zM881 298h1v1h-1zM882 298h1v1h-1zM885 298h1v1h-1zM886 298h1v1h-1zM889 298h1v1h-1zM890 298h1v1h-1zM893 298h1v1h-1zM894 298h1v1h-1zM897 298h1v1h-1zM898 298h1v1h-1zM901 298h1v1h-1zM902 298h1v1h-1zM905 298h1v1h-1zM906 298h1v1h-1zM909 298h1v1h-1zM910 298h1v1h-1zM913 298h1v1h-1zM914 298h1v1h-1zM917 298h1v1h-1zM918 298h1v1h-1zM921 298h1v1h-1zM922 298h1v1h-1zM925 298h1v1h-1zM926 298h1v1h-1zM929 298h1v1h-1zM930 298h1v1h-1zM933 298h1v1h-1zM934 298h1v1h-1zM937 298h1v1h-1zM938 298h1v1h-1zM941 298h1v1h-1zM942 298h1v1h-1zM945 298h1v1h-1zM946 298h1v1h-1zM949 298h1v1h-1zM950 298h1v1h-1zM953 298h1v1h-1zM954 298h1v1h-1zM957 298h1v1h-1zM958 298h1v1h-1zM961 298h1v1h-1zM962 298h1v1h-1zM965 298h1v1h-1zM966 298h1v1h-1zM969 298h1v1h-1zM970 298h1v1h-1zM973 298h1v1h-1zM974 298h1v1h-1zM977 298h1v1h-1zM978 298h1v1h-1zM981 298h1v1h-1zM982 298h1v1h-1zM985 298h1v1h-1zM986 298h1v1h-1zM989 298h1v1h-1zM990 298h1v1h-1zM993 298h1v1h-1zM994 298h1v1h-1zM73 382h1v1h-1zM74 382h1v1h-1zM77 382h1v1h-1zM78 382h1v1h-1zM81 382h1v1h-1zM82 382h1v1h-1zM85 382h1v1h-1zM86 382h1v1h-1zM89 382h1v1h-1zM90 382h1v1h-1zM93 382h1v1h-1zM94 382h1v1h-1zM97 382h1v1h-1zM98 382h1v1h-1zM101 382h1v1h-1zM102 382h1v1h-1zM105 382h1v1h-1zM106 382h1v1h-1zM109 382h1v1h-1zM110 382h1v1h-1zM113 382h1v1h-1zM114 382h1v1h-1zM117 382h1v1h-1zM118 382h1v1h-1zM121 382h1v1h-1zM122 382h1v1h-1zM125 382h1v1h-1zM126 382h1v1h-1zM129 382h1v1h-1zM130 382h1v1h-1zM133 382h1v1h-1zM134 382h1v1h-1zM137 382h1v1h-1zM138 382h1v1h-1zM141 382h1v1h-1zM142 382h1v1h-1zM145 382h1v1h-1zM146 382h1v1h-1zM149 382h1v1h-1zM150 382h1v1h-1zM153 382h1v1h-1zM154 382h1v1h-1zM157 382h1v1h-1zM158 382h1v1h-1zM161 382h1v1h-1zM162 382h1v1h-1zM165 382h1v1h-1zM166 382h1v1h-1zM169 382h1v1h-1zM170 382h1v1h-1zM173 382h1v1h-1zM174 382h1v1h-1zM177 382h1v1h-1zM178 382h1v1h-1zM181 382h1v1h-1zM182 382h1v1h-1zM185 382h1v1h-1zM186 382h1v1h-1zM189 382h1v1h-1zM190 382h1v1h-1zM193 382h1v1h-1zM194 382h1v1h-1zM197 382h1v1h-1zM198 382h1v1h-1zM201 382h1v1h-1zM202 382h1v1h-1zM205 382h1v1h-1zM206 382h1v1h-1zM209 382h1v1h-1zM210 382h1v1h-1zM213 382h1v1h-1zM214 382h1v1h-1zM217 382h1v1h-1zM218 382h1v1h-1zM221 382h1v1h-1zM222 382h1v1h-1zM225 382h1v1h-1zM226 382h1v1h-1zM229 382h1v1h-1zM230 382h1v1h-1zM233 382h1v1h-1zM234 382h1v1h-1zM237 382h1v1h-1zM238 382h1v1h-1zM241 382h1v1h-1zM242 382h1v1h-1zM245 382h1v1h-1zM246 382h1v1h-1zM249 382h1v1h-1zM250 382h1v1h-1zM253 382h1v1h-1zM254 382h1v1h-1zM257 382h1v1h-1zM258 382h1v1h-1zM261 382h1v1h-1zM262 382h1v1h-1zM265 382h1v1h-1zM266 382h1v1h-1zM269 382h1v1h-1zM270 382h1v1h-1zM273 382h1v1h-1zM274 382h1v1h-1zM277 382h1v1h-1zM278 382h1v1h-1zM281 382h1v1h-1zM282 382h1v1h-1zM285 382h1v1h-1zM286 382h1v1h-1zM289 382h1v1h-1zM290 382h1v1h-1zM293 382h1v1h-1zM294 382h1v1h-1zM297 382h1v1h-1zM298 382h1v1h-1zM301 382h1v1h-1zM302 382h1v1h-1zM305 382h1v1h-1zM306 382h1v1h-1zM309 382h1v1h-1zM310 382h1v1h-1zM313 382h1v1h-1zM314 382h1v1h-1zM317 382h1v1h-1zM318 382h1v1h-1zM321 382h1v1h-1zM322 382h1v1h-1zM325 382h1v1h-1zM326 382h1v1h-1zM329 382h1v1h-1zM330 382h1v1h-1zM333 382h1v1h-1zM334 382h1v1h-1zM337 382h1v1h-1zM338 382h1v1h-1zM341 382h1v1h-1zM342 382h1v1h-1zM345 382h1v1h-1zM346 382h1v1h-1zM349 382h1v1h-1zM350 382h1v1h-1zM353 382h1v1h-1zM354 382h1v1h-1zM357 382h1v1h-1zM358 382h1v1h-1zM361 382h1v1h-1zM362 382h1v1h-1zM365 382h1v1h-1zM366 382h1v1h-1zM369 382h1v1h-1zM370 382h1v1h-1zM373 382h1v1h-1zM374 382h1v1h-1zM377 382h1v1h-1zM378 382h1v1h-1zM381 382h1v1h-1zM382 382h1v1h-1zM385 382h1v1h-1zM386 382h1v1h-1zM389 382h1v1h-1zM390 382h1v1h-1zM393 382h1v1h-1zM394 382h1v1h-1zM397 382h1v1h-1zM398 382h1v1h-1zM401 382h1v1h-1zM402 382h1v1h-1zM405 382h1v1h-1zM406 382h1v1h-1zM409 382h1v1h-1zM410 382h1v1h-1zM413 382h1v1h-1zM414 382h1v1h-1zM417 382h1v1h-1zM418 382h1v1h-1zM421 382h1v1h-1zM422 382h1v1h-1zM425 382h1v1h-1zM426 382h1v1h-1zM429 382h1v1h-1zM430 382h1v1h-1zM433 382h1v1h-1zM434 382h1v1h-1zM437 382h1v1h-1zM438 382h1v1h-1zM441 382h1v1h-1zM442 382h1v1h-1zM445 382h1v1h-1zM446 382h1v1h-1zM449 382h1v1h-1zM450 382h1v1h-1zM453 382h1v1h-1zM454 382h1v1h-1zM457 382h1v1h-1zM458 382h1v1h-1zM461 382h1v1h-1zM462 382h1v1h-1zM465 382h1v1h-1zM466 382h1v1h-1zM469 382h1v1h-1zM470 382h1v1h-1zM473 382h1v1h-1zM474 382h1v1h-1zM477 382h1v1h-1zM478 382h1v1h-1zM481 382h1v1h-1zM482 382h1v1h-1zM485 382h1v1h-1zM486 382h1v1h-1zM489 382h1v1h-1zM490 382h1v1h-1zM493 382h1v1h-1zM494 382h1v1h-1zM497 382h1v1h-1zM498 382h1v1h-1zM501 382h1v1h-1zM502 382h1v1h-1zM505 382h1v1h-1zM506 382h1v1h-1zM509 382h1v1h-1zM510 382h1v1h-1zM513 382h1v1h-1zM514 382h1v1h-1zM517 382h1v1h-1zM518 382h1v1h-1zM521 382h1v1h-1zM522 382h1v1h-1zM525 382h1v1h-1zM526 382h1v1h-1zM529 382h1v1h-1zM530 382h1v1h-1zM533 382h1v1h-1zM534 382h1v1h-1zM537 382h1v1h-1zM538 382h1v1h-1zM541 382h1v1h-1zM542 382h1v1h-1zM545 382h1v1h-1zM546 382h1v1h-1zM549 382h1v1h-1zM550 382h1v1h-1zM553 382h1v1h-1zM554 382h1v1h-1zM557 382h1v1h-1zM558 382h1v1h-1zM561 382h1v1h-1zM562 382h1v1h-1zM565 382h1v1h-1zM566 382h1v1h-1zM569 382h1v1h-1zM570 382h1v1h-1zM573 382h1v1h-1zM574 382h1v1h-1zM577 382h1v1h-1zM578 382h1v1h-1zM581 382h1v1h-1zM582 382h1v1h-1zM585 382h1v1h-1zM586 382h1v1h-1zM589 382h1v1h-1zM590 382h1v1h-1zM593 382h1v1h-1zM594 382h1v1h-1zM597 382h1v1h-1zM598 382h1v1h-1zM601 382h1v1h-1zM602 382h1v1h-1zM605 382h1v1h-1zM606 382h1v1h-1zM609 382h1v1h-1zM610 382h1v1h-1zM613 382h1v1h-1zM614 382h1v1h-1zM617 382h1v1h-1zM618 382h1v1h-1zM621 382h1v1h-1zM622 382h1v1h-1zM625 382h1v1h-1zM626 382h1v1h-1zM629 382h1v1h-1zM630 382h1v1h-1zM633 382h1v1h-1zM634 382h1v1h-1zM637 382h1v1h-1zM638 382h1v1h-1zM641 382h1v1h-1zM642 382h1v1h-1zM645 382h1v1h-1zM646 382h1v1h-1zM649 382h1v1h-1zM650 382h1v1h-1zM653 382h1v1h-1zM654 382h1v1h-1zM657 382h1v1h-1zM658 382h1v1h-1zM661 382h1v1h-1zM662 382h1v1h-1zM665 382h1v1h-1zM666 382h1v1h-1zM669 382h1v1h-1zM670 382h1v1h-1zM673 382h1v1h-1zM674 382h1v1h-1zM677 382h1v1h-1zM678 382h1v1h-1zM681 382h1v1h-1zM682 382h1v1h-1zM685 382h1v1h-1zM686 382h1v1h-1zM689 382h1v1h-1zM690 382h1v1h-1zM693 382h1v1h-1zM694 382h1v1h-1zM697 382h1v1h-1zM698 382h1v1h-1zM701 382h1v1h-1zM702 382h1v1h-1zM705 382h1v1h-1zM706 382h1v1h-1zM709 382h1v1h-1zM710 382h1v1h-1zM713 382h1v1h-1zM714 382h1v1h-1zM717 382h1v1h-1zM718 382h1v1h-1zM721 382h1v1h-1zM722 382h1v1h-1zM725 382h1v1h-1zM726 382h1v1h-1zM729 382h1v1h-1zM730 382h1v1h-1zM733 382h1v1h-1zM734 382h1v1h-1zM737 382h1v1h-1zM738 382h1v1h-1zM741 382h1v1h-1zM742 382h1v1h-1zM745 382h1v1h-1zM746 382h1v1h-1zM749 382h1v1h-1zM750 382h1v1h-1zM753 382h1v1h-1zM754 382h1v1h-1zM757 382h1v1h-1zM758 382h1v1h-1zM761 382h1v1h-1zM762 382h1v1h-1zM765 382h1v1h-1zM766 382h1v1h-1zM769 382h1v1h-1zM770 382h1v1h-1zM773 382h1v1h-1zM774 382h1v1h-1zM777 382h1v1h-1zM778 382h1v1h-1zM781 382h1v1h-1zM782 382h1v1h-1zM785 382h1v1h-1zM786 382h1v1h-1zM789 382h1v1h-1zM790 382h1v1h-1zM793 382h1v1h-1zM794 382h1v1h-1zM797 382h1v1h-1zM798 382h1v1h-1zM801 382h1v1h-1zM802 382h1v1h-1zM805 382h1v1h-1zM806 382h1v1h-1zM809 382h1v1h-1zM810 382h1v1h-1zM813 382h1v1h-1zM814 382h1v1h-1zM817 382h1v1h-1zM818 382h1v1h-1zM821 382h1v1h-1zM822 382h1v1h-1zM825 382h1v1h-1zM826 382h1v1h-1zM829 382h1v1h-1zM830 382h1v1h-1zM833 382h1v1h-1zM834 382h1v1h-1zM837 382h1v1h-1zM838 382h1v1h-1zM841 382h1v1h-1zM842 382h1v1h-1zM845 382h1v1h-1zM846 382h1v1h-1zM849 382h1v1h-1zM850 382h1v1h-1zM853 382h1v1h-1zM854 382h1v1h-1zM857 382h1v1h-1zM858 382h1v1h-1zM861 382h1v1h-1zM862 382h1v1h-1zM865 382h1v1h-1zM866 382h1v1h-1zM869 382h1v1h-1zM870 382h1v1h-1zM873 382h1v1h-1zM874 382h1v1h-1zM877 382h1v1h-1zM878 382h1v1h-1zM881 382h1v1h-1zM882 382h1v1h-1zM885 382h1v1h-1zM886 382h1v1h-1zM889 382h1v1h-1zM890 382h1v1h-1zM893 382h1v1h-1zM894 382h1v1h-1zM897 382h1v1h-1zM898 382h1v1h-1zM901 382h1v1h-1zM902 382h1v1h-1zM905 382h1v1h-1zM906 382h1v1h-1zM909 382h1v1h-1zM910 382h1v1h-1zM913 382h1v1h-1zM914 382h1v1h-1zM917 382h1v1h-1zM918 382h1v1h-1zM921 382h1v1h-1zM922 382h1v1h-1zM925 382h1v1h-1zM926 382h1v1h-1zM929 382h1v1h-1zM930 382h1v1h-1zM933 382h1v1h-1zM934 382h1v1h-1zM937 382h1v1h-1zM938 382h1v1h-1zM941 382h1v1h-1zM942 382h1v1h-1zM945 382h1v1h-1zM946 382h1v1h-1zM949 382h1v1h-1zM950 382h1v1h-1zM953 382h1v1h-1zM954 382h1v1h-1zM957 382h1v1h-1zM958 382h1v1h-1zM961 382h1v1h-1zM962 382h1v1h-1zM965 382h1v1h-1zM966 382h1v1h-1zM969 382h1v1h-1zM970 382h1v1h-1zM973 382h1v1h-1zM974 382h1v1h-1zM977 382h1v1h-1zM978 382h1v1h-1zM981 382h1v1h-1zM982 382h1v1h-1zM985 382h1v1h-1zM986 382h1v1h-1zM989 382h1v1h-1zM990 382h1v1h-1zM993 382h1v1h-1zM994 382h1v1h-1zM73 466h1v1h-1zM74 466h1v1h-1zM77 466h1v1h-1zM78 466h1v1h-1zM81 466h1v1h-1zM82 466h1v1h-1zM85 466h1v1h-1zM86 466h1v1h-1zM89 466h1v1h-1zM90 466h1v1h-1zM93 466h1v1h-1zM94 466h1v1h-1zM97 466h1v1h-1zM98 466h1v1h-1zM101 466h1v1h-1zM102 466h1v1h-1zM105 466h1v1h-1zM106 466h1v1h-1zM109 466h1v1h-1zM110 466h1v1h-1zM113 466h1v1h-1zM114 466h1v1h-1zM117 466h1v1h-1zM118 466h1v1h-1zM121 466h1v1h-1zM122 466h1v1h-1zM125 466h1v1h-1zM126 466h1v1h-1zM129 466h1v1h-1zM130 466h1v1h-1zM133 466h1v1h-1zM134 466h1v1h-1zM137 466h1v1h-1zM138 466h1v1h-1zM141 466h1v1h-1zM142 466h1v1h-1zM145 466h1v1h-1zM146 466h1v1h-1zM149 466h1v1h-1zM150 466h1v1h-1zM153 466h1v1h-1zM154 466h1v1h-1zM157 466h1v1h-1zM158 466h1v1h-1zM161 466h1v1h-1zM162 466h1v1h-1zM165 466h1v1h-1zM166 466h1v1h-1zM169 466h1v1h-1zM170 466h1v1h-1zM173 466h1v1h-1zM174 466h1v1h-1zM177 466h1v1h-1zM178 466h1v1h-1zM181 466h1v1h-1zM182 466h1v1h-1zM185 466h1v1h-1zM186 466h1v1h-1zM189 466h1v1h-1zM190 466h1v1h-1zM193 466h1v1h-1zM194 466h1v1h-1zM197 466h1v1h-1zM198 466h1v1h-1zM201 466h1v1h-1zM202 466h1v1h-1zM205 466h1v1h-1zM206 466h1v1h-1zM209 466h1v1h-1zM210 466h1v1h-1zM213 466h1v1h-1zM214 466h1v1h-1zM217 466h1v1h-1zM218 466h1v1h-1zM221 466h1v1h-1zM222 466h1v1h-1zM225 466h1v1h-1zM226 466h1v1h-1zM229 466h1v1h-1zM230 466h1v1h-1zM233 466h1v1h-1zM234 466h1v1h-1zM237 466h1v1h-1zM238 466h1v1h-1zM241 466h1v1h-1zM242 466h1v1h-1zM245 466h1v1h-1zM246 466h1v1h-1zM249 466h1v1h-1zM250 466h1v1h-1zM253 466h1v1h-1zM254 466h1v1h-1zM257 466h1v1h-1zM258 466h1v1h-1zM261 466h1v1h-1zM262 466h1v1h-1zM265 466h1v1h-1zM266 466h1v1h-1zM269 466h1v1h-1zM270 466h1v1h-1zM273 466h1v1h-1zM274 466h1v1h-1zM277 466h1v1h-1zM278 466h1v1h-1zM281 466h1v1h-1zM282 466h1v1h-1zM285 466h1v1h-1zM286 466h1v1h-1zM289 466h1v1h-1zM290 466h1v1h-1zM293 466h1v1h-1zM294 466h1v1h-1zM297 466h1v1h-1zM298 466h1v1h-1zM301 466h1v1h-1zM302 466h1v1h-1zM305 466h1v1h-1zM306 466h1v1h-1zM309 466h1v1h-1zM310 466h1v1h-1zM313 466h1v1h-1zM314 466h1v1h-1zM317 466h1v1h-1zM318 466h1v1h-1zM321 466h1v1h-1zM322 466h1v1h-1zM325 466h1v1h-1zM326 466h1v1h-1zM329 466h1v1h-1zM330 466h1v1h-1zM333 466h1v1h-1zM334 466h1v1h-1zM337 466h1v1h-1zM338 466h1v1h-1zM341 466h1v1h-1zM342 466h1v1h-1zM345 466h1v1h-1zM346 466h1v1h-1zM349 466h1v1h-1zM350 466h1v1h-1zM353 466h1v1h-1zM354 466h1v1h-1zM357 466h1v1h-1zM358 466h1v1h-1zM361 466h1v1h-1zM362 466h1v1h-1zM365 466h1v1h-1zM366 466h1v1h-1zM369 466h1v1h-1zM370 466h1v1h-1zM373 466h1v1h-1zM374 466h1v1h-1zM377 466h1v1h-1zM378 466h1v1h-1zM381 466h1v1h-1zM382 466h1v1h-1zM385 466h1v1h-1zM386 466h1v1h-1zM389 466h1v1h-1zM390 466h1v1h-1zM393 466h1v1h-1zM394 466h1v1h-1zM397 466h1v1h-1zM398 466h1v1h-1zM401 466h1v1h-1zM402 466h1v1h-1zM405 466h1v1h-1zM406 466h1v1h-1zM409 466h1v1h-1zM410 466h1v1h-1zM413 466h1v1h-1zM414 466h1v1h-1zM417 466h1v1h-1zM418 466h1v1h-1zM421 466h1v1h-1zM422 466h1v1h-1zM425 466h1v1h-1zM426 466h1v1h-1zM429 466h1v1h-1zM430 466h1v1h-1zM433 466h1v1h-1zM434 466h1v1h-1zM437 466h1v1h-1zM438 466h1v1h-1zM441 466h1v1h-1zM442 466h1v1h-1zM445 466h1v1h-1zM446 466h1v1h-1zM449 466h1v1h-1zM450 466h1v1h-1zM453 466h1v1h-1zM454 466h1v1h-1zM457 466h1v1h-1zM458 466h1v1h-1zM461 466h1v1h-1zM462 466h1v1h-1zM465 466h1v1h-1zM466 466h1v1h-1zM469 466h1v1h-1zM470 466h1v1h-1zM473 466h1v1h-1zM474 466h1v1h-1zM477 466h1v1h-1zM478 466h1v1h-1zM481 466h1v1h-1zM482 466h1v1h-1zM485 466h1v1h-1zM486 466h1v1h-1zM489 466h1v1h-1zM490 466h1v1h-1zM493 466h1v1h-1zM494 466h1v1h-1zM497 466h1v1h-1zM498 466h1v1h-1zM501 466h1v1h-1zM502 466h1v1h-1zM505 466h1v1h-1zM506 466h1v1h-1zM509 466h1v1h-1zM510 466h1v1h-1zM513 466h1v1h-1zM514 466h1v1h-1zM517 466h1v1h-1zM518 466h1v1h-1zM521 466h1v1h-1zM522 466h1v1h-1zM525 466h1v1h-1zM526 466h1v1h-1zM529 466h1v1h-1zM530 466h1v1h-1zM533 466h1v1h-1zM534 466h1v1h-1zM537 466h1v1h-1zM538 466h1v1h-1zM541 466h1v1h-1zM542 466h1v1h-1zM545 466h1v1h-1zM546 466h1v1h-1zM549 466h1v1h-1zM550 466h1v1h-1zM553 466h1v1h-1zM554 466h1v1h-1zM557 466h1v1h-1zM558 466h1v1h-1zM561 466h1v1h-1zM562 466h1v1h-1zM565 466h1v1h-1zM566 466h1v1h-1zM569 466h1v1h-1zM570 466h1v1h-1zM573 466h1v1h-1zM574 466h1v1h-1zM577 466h1v1h-1zM578 466h1v1h-1zM581 466h1v1h-1zM582 466h1v1h-1zM585 466h1v1h-1zM586 466h1v1h-1zM589 466h1v1h-1zM590 466h1v1h-1zM593 466h1v1h-1zM594 466h1v1h-1zM597 466h1v1h-1zM598 466h1v1h-1zM601 466h1v1h-1zM602 466h1v1h-1zM605 466h1v1h-1zM606 466h1v1h-1zM609 466h1v1h-1zM610 466h1v1h-1zM613 466h1v1h-1zM614 466h1v1h-1zM617 466h1v1h-1zM618 466h1v1h-1zM621 466h1v1h-1zM622 466h1v1h-1zM625 466h1v1h-1zM626 466h1v1h-1zM629 466h1v1h-1zM630 466h1v1h-1zM633 466h1v1h-1zM634 466h1v1h-1zM637 466h1v1h-1zM638 466h1v1h-1zM641 466h1v1h-1zM642 466h1v1h-1zM645 466h1v1h-1zM646 466h1v1h-1zM649 466h1v1h-1zM650 466h1v1h-1zM653 466h1v1h-1zM654 466h1v1h-1zM657 466h1v1h-1zM658 466h1v1h-1zM661 466h1v1h-1zM662 466h1v1h-1zM665 466h1v1h-1zM666 466h1v1h-1zM669 466h1v1h-1zM670 466h1v1h-1zM673 466h1v1h-1zM674 466h1v1h-1zM677 466h1v1h-1zM678 466h1v1h-1zM681 466h1v1h-1zM682 466h1v1h-1zM685 466h1v1h-1zM686 466h1v1h-1zM689 466h1v1h-1zM690 466h1v1h-1zM693 466h1v1h-1zM694 466h1v1h-1zM697 466h1v1h-1zM698 466h1v1h-1zM701 466h1v1h-1zM702 466h1v1h-1zM705 466h1v1h-1zM706 466h1v1h-1zM709 466h1v1h-1zM710 466h1v1h-1zM713 466h1v1h-1zM714 466h1v1h-1zM717 466h1v1h-1zM718 466h1v1h-1zM721 466h1v1h-1zM722 466h1v1h-1zM725 466h1v1h-1zM726 466h1v1h-1zM729 466h1v1h-1zM730 466h1v1h-1zM733 466h1v1h-1zM734 466h1v1h-1zM737 466h1v1h-1zM738 466h1v1h-1zM741 466h1v1h-1zM742 466h1v1h-1zM745 466h1v1h-1zM746 466h1v1h-1zM749 466h1v1h-1zM750 466h1v1h-1zM753 466h1v1h-1zM754 466h1v1h-1zM757 466h1v1h-1zM758 466h1v1h-1zM761 466h1v1h-1zM762 466h1v1h-1zM765 466h1v1h-1zM766 466h1v1h-1zM769 466h1v1h-1zM770 466h1v1h-1zM773 466h1v1h-1zM774 466h1v1h-1zM777 466h1v1h-1zM778 466h1v1h-1zM781 466h1v1h-1zM782 466h1v1h-1zM785 466h1v1h-1zM786 466h1v1h-1zM789 466h1v1h-1zM790 466h1v1h-1zM793 466h1v1h-1zM794 466h1v1h-1zM797 466h1v1h-1zM798 466h1v1h-1zM801 466h1v1h-1zM802 466h1v1h-1zM805 466h1v1h-1zM806 466h1v1h-1zM809 466h1v1h-1zM810 466h1v1h-1zM813 466h1v1h-1zM814 466h1v1h-1zM817 466h1v1h-1zM818 466h1v1h-1zM821 466h1v1h-1zM822 466h1v1h-1zM825 466h1v1h-1zM826 466h1v1h-1zM829 466h1v1h-1zM830 466h1v1h-1zM833 466h1v1h-1zM834 466h1v1h-1zM837 466h1v1h-1zM838 466h1v1h-1zM841 466h1v1h-1zM842 466h1v1h-1zM845 466h1v1h-1zM846 466h1v1h-1zM849 466h1v1h-1zM850 466h1v1h-1zM853 466h1v1h-1zM854 466h1v1h-1zM857 466h1v1h-1zM858 466h1v1h-1zM861 466h1v1h-1zM862 466h1v1h-1zM865 466h1v1h-1zM866 466h1v1h-1zM869 466h1v1h-1zM870 466h1v1h-1zM873 466h1v1h-1zM874 466h1v1h-1zM877 466h1v1h-1zM878 466h1v1h-1zM881 466h1v1h-1zM882 466h1v1h-1zM885 466h1v1h-1zM886 466h1v1h-1zM889 466h1v1h-1zM890 466h1v1h-1zM893 466h1v1h-1zM894 466h1v1h-1zM897 466h1v1h-1zM898 466h1v1h-1zM901 466h1v1h-1zM902 466h1v1h-1zM905 466h1v1h-1zM906 466h1v1h-1zM909 466h1v1h-1zM910 466h1v1h-1zM913 466h1v1h-1zM914 466h1v1h-1zM917 466h1v1h-1zM918 466h1v1h-1zM921 466h1v1h-1zM922 466h1v1h-1zM925 466h1v1h-1zM926 466h1v1h-1zM929 466h1v1h-1zM930 466h1v1h-1zM933 466h1v1h-1zM934 466h1v1h-1zM937 466h1v1h-1zM938 466h1v1h-1zM941 466h1v1h-1zM942 466h1v1h-1zM945 466h1v1h-1zM946 466h1v1h-1zM949 466h1v1h-1zM950 466h1v1h-1zM953 466h1v1h-1zM954 466h1v1h-1zM957 466h1v1h-1zM958 466h1v1h-1zM961 466h1v1h-1zM962 466h1v1h-1zM965 466h1v1h-1zM966 466h1v1h-1zM969 466h1v1h-1zM970 466h1v1h-1zM973 466h1v1h-1zM974 466h1v1h-1zM977 466h1v1h-1zM978 466h1v1h-1zM981 466h1v1h-1zM982 466h1v1h-1zM985 466h1v1h-1zM986 466h1v1h-1zM989 466h1v1h-1zM990 466h1v1h-1zM993 466h1v1h-1zM994 466h1v1h-1zM73 550h1v1h-1zM74 550h1v1h-1zM77 550h1v1h-1zM78 550h1v1h-1zM81 550h1v1h-1zM82 550h1v1h-1zM85 550h1v1h-1zM86 550h1v1h-1zM89 550h1v1h-1zM90 550h1v1h-1zM93 550h1v1h-1zM94 550h1v1h-1zM97 550h1v1h-1zM98 550h1v1h-1zM101 550h1v1h-1zM102 550h1v1h-1zM105 550h1v1h-1zM106 550h1v1h-1zM109 550h1v1h-1zM110 550h1v1h-1zM113 550h1v1h-1zM114 550h1v1h-1zM117 550h1v1h-1zM118 550h1v1h-1zM121 550h1v1h-1zM122 550h1v1h-1zM125 550h1v1h-1zM126 550h1v1h-1zM129 550h1v1h-1zM130 550h1v1h-1zM133 550h1v1h-1zM134 550h1v1h-1zM137 550h1v1h-1zM138 550h1v1h-1zM141 550h1v1h-1zM142 550h1v1h-1zM145 550h1v1h-1zM146 550h1v1h-1zM149 550h1v1h-1zM150 550h1v1h-1zM153 550h1v1h-1zM154 550h1v1h-1zM157 550h1v1h-1zM158 550h1v1h-1zM161 550h1v1h-1zM162 550h1v1h-1zM165 550h1v1h-1zM166 550h1v1h-1zM169 550h1v1h-1zM170 550h1v1h-1zM173 550h1v1h-1zM174 550h1v1h-1zM177 550h1v1h-1zM178 550h1v1h-1zM181 550h1v1h-1zM182 550h1v1h-1zM185 550h1v1h-1zM186 550h1v1h-1zM189 550h1v1h-1zM190 550h1v1h-1zM193 550h1v1h-1zM194 550h1v1h-1zM197 550h1v1h-1zM198 550h1v1h-1zM201 550h1v1h-1zM202 550h1v1h-1zM205 550h1v1h-1zM206 550h1v1h-1zM209 550h1v1h-1zM210 550h1v1h-1zM213 550h1v1h-1zM214 550h1v1h-1zM217 550h1v1h-1zM218 550h1v1h-1zM221 550h1v1h-1zM222 550h1v1h-1zM225 550h1v1h-1zM226 550h1v1h-1zM229 550h1v1h-1zM230 550h1v1h-1zM233 550h1v1h-1zM234 550h1v1h-1zM237 550h1v1h-1zM238 550h1v1h-1zM241 550h1v1h-1zM242 550h1v1h-1zM245 550h1v1h-1zM246 550h1v1h-1zM249 550h1v1h-1zM250 550h1v1h-1zM253 550h1v1h-1zM254 550h1v1h-1zM257 550h1v1h-1zM258 550h1v1h-1zM261 550h1v1h-1zM262 550h1v1h-1zM265 550h1v1h-1zM266 550h1v1h-1zM269 550h1v1h-1zM270 550h1v1h-1zM273 550h1v1h-1zM274 550h1v1h-1zM277 550h1v1h-1zM278 550h1v1h-1zM281 550h1v1h-1zM282 550h1v1h-1zM285 550h1v1h-1zM286 550h1v1h-1zM289 550h1v1h-1zM290 550h1v1h-1zM293 550h1v1h-1zM294 550h1v1h-1zM297 550h1v1h-1zM298 550h1v1h-1zM301 550h1v1h-1zM302 550h1v1h-1zM305 550h1v1h-1zM306 550h1v1h-1zM309 550h1v1h-1zM310 550h1v1h-1zM313 550h1v1h-1zM314 550h1v1h-1zM317 550h1v1h-1zM318 550h1v1h-1zM321 550h1v1h-1zM322 550h1v1h-1zM325 550h1v1h-1zM326 550h1v1h-1zM329 550h1v1h-1zM330 550h1v1h-1zM333 550h1v1h-1zM334 550h1v1h-1zM337 550h1v1h-1zM338 550h1v1h-1zM341 550h1v1h-1zM342 550h1v1h-1zM345 550h1v1h-1zM346 550h1v1h-1zM349 550h1v1h-1zM350 550h1v1h-1zM353 550h1v1h-1zM354 550h1v1h-1zM357 550h1v1h-1zM358 550h1v1h-1zM361 550h1v1h-1zM362 550h1v1h-1zM365 550h1v1h-1zM366 550h1v1h-1zM369 550h1v1h-1zM370 550h1v1h-1zM373 550h1v1h-1zM374 550h1v1h-1zM377 550h1v1h-1zM378 550h1v1h-1zM381 550h1v1h-1zM382 550h1v1h-1zM385 550h1v1h-1zM386 550h1v1h-1zM389 550h1v1h-1zM390 550h1v1h-1zM393 550h1v1h-1zM394 550h1v1h-1zM397 550h1v1h-1zM398 550h1v1h-1zM401 550h1v1h-1zM402 550h1v1h-1zM405 550h1v1h-1zM406 550h1v1h-1zM409 550h1v1h-1zM410 550h1v1h-1zM413 550h1v1h-1zM414 550h1v1h-1zM417 550h1v1h-1zM418 550h1v1h-1zM421 550h1v1h-1zM422 550h1v1h-1zM425 550h1v1h-1zM426 550h1v1h-1zM429 550h1v1h-1zM430 550h1v1h-1zM433 550h1v1h-1zM434 550h1v1h-1zM437 550h1v1h-1zM438 550h1v1h-1zM441 550h1v1h-1zM442 550h1v1h-1zM445 550h1v1h-1zM446 550h1v1h-1zM449 550h1v1h-1zM450 550h1v1h-1zM453 550h1v1h-1zM454 550h1v1h-1zM457 550h1v1h-1zM458 550h1v1h-1zM461 550h1v1h-1zM462 550h1v1h-1zM465 550h1v1h-1zM466 550h1v1h-1zM469 550h1v1h-1zM470 550h1v1h-1zM473 550h1v1h-1zM474 550h1v1h-1zM477 550h1v1h-1zM478 550h1v1h-1zM481 550h1v1h-1zM482 550h1v1h-1zM485 550h1v1h-1zM486 550h1v1h-1zM489 550h1v1h-1zM490 550h1v1h-1zM493 550h1v1h-1zM494 550h1v1h-1zM497 550h1v1h-1zM498 550h1v1h-1zM501 550h1v1h-1zM502 550h1v1h-1zM505 550h1v1h-1zM506 550h1v1h-1zM509 550h1v1h-1zM510 550h1v1h-1zM513 550h1v1h-1zM514 550h1v1h-1zM517 550h1v1h-1zM518 550h1v1h-1zM521 550h1v1h-1zM522 550h1v1h-1zM525 550h1v1h-1zM526 550h1v1h-1zM529 550h1v1h-1zM530 550h1v1h-1zM533 550h1v1h-1zM534 550h1v1h-1zM537 550h1v1h-1zM538 550h1v1h-1zM541 550h1v1h-1zM542 550h1v1h-1zM545 550h1v1h-1zM546 550h1v1h-1zM549 550h1v1h-1zM550 550h1v1h-1zM553 550h1v1h-1zM554 550h1v1h-1zM557 550h1v1h-1zM558 550h1v1h-1zM561 550h1v1h-1zM562 550h1v1h-1zM565 550h1v1h-1zM566 550h1v1h-1zM569 550h1v1h-1zM570 550h1v1h-1zM573 550h1v1h-1zM574 550h1v1h-1zM577 550h1v1h-1zM578 550h1v1h-1zM581 550h1v1h-1zM582 550h1v1h-1zM585 550h1v1h-1zM586 550h1v1h-1zM589 550h1v1h-1zM590 550h1v1h-1zM593 550h1v1h-1zM594 550h1v1h-1zM597 550h1v1h-1zM598 550h1v1h-1zM601 550h1v1h-1zM602 550h1v1h-1zM605 550h1v1h-1zM606 550h1v1h-1zM609 550h1v1h-1zM610 550h1v1h-1zM613 550h1v1h-1zM614 550h1v1h-1zM617 550h1v1h-1zM618 550h1v1h-1zM621 550h1v1h-1zM622 550h1v1h-1zM625 550h1v1h-1zM626 550h1v1h-1zM629 550h1v1h-1zM630 550h1v1h-1zM633 550h1v1h-1zM634 550h1v1h-1zM637 550h1v1h-1zM638 550h1v1h-1zM641 550h1v1h-1zM642 550h1v1h-1zM645 550h1v1h-1zM646 550h1v1h-1zM649 550h1v1h-1zM650 550h1v1h-1zM653 550h1v1h-1zM654 550h1v1h-1zM657 550h1v1h-1zM658 550h1v1h-1zM661 550h1v1h-1zM662 550h1v1h-1zM665 550h1v1h-1zM666 550h1v1h-1zM669 550h1v1h-1zM670 550h1v1h-1zM673 550h1v1h-1zM674 550h1v1h-1zM677 550h1v1h-1zM678 550h1v1h-1zM681 550h1v1h-1zM682 550h1v1h-1zM685 550h1v1h-1zM686 550h1v1h-1zM689 550h1v1h-1zM690 550h1v1h-1zM693 550h1v1h-1zM694 550h1v1h-1zM697 550h1v1h-1zM698 550h1v1h-1zM701 550h1v1h-1zM702 550h1v1h-1zM705 550h1v1h-1zM706 550h1v1h-1zM709 550h1v1h-1zM710 550h1v1h-1zM713 550h1v1h-1zM714 550h1v1h-1zM717 550h1v1h-1zM718 550h1v1h-1zM721 550h1v1h-1zM722 550h1v1h-1zM725 550h1v1h-1zM726 550h1v1h-1zM729 550h1v1h-1zM730 550h1v1h-1zM733 550h1v1h-1zM734 550h1v1h-1zM737 550h1v1h-1zM738 550h1v1h-1zM741 550h1v1h-1zM742 550h1v1h-1zM745 550h1v1h-1zM746 550h1v1h-1zM749 550h1v1h-1zM750 550h1v1h-1zM753 550h1v1h-1zM754 550h1v1h-1zM757 550h1v1h-1zM758 550h1v1h-1zM761 550h1v1h-1zM762 550h1v1h-1zM765 550h1v1h-1zM766 550h1v1h-1zM769 550h1v1h-1zM770 550h1v1h-1zM773 550h1v1h-1zM774 550h1v1h-1zM777 550h1v1h-1zM778 550h1v1h-1zM781 550h1v1h-1zM782 550h1v1h-1zM785 550h1v1h-1zM786 550h1v1h-1zM789 550h1v1h-1zM790 550h1v1h-1zM793 550h1v1h-1zM794 550h1v1h-1zM797 550h1v1h-1zM798 550h1v1h-1zM801 550h1v1h-1zM802 550h1v1h-1zM805 550h1v1h-1zM806 550h1v1h-1zM809 550h1v1h-1zM810 550h1v1h-1zM813 550h1v1h-1zM814 550h1v1h-1zM817 550h1v1h-1zM818 550h1v1h-1zM821 550h1v1h-1zM822 550h1v1h-1zM825 550h1v1h-1zM826 550h1v1h-1zM829 550h1v1h-1zM830 550h1v1h-1zM833 550h1v1h-1zM834 550h1v1h-1zM837 550h1v1h-1zM838 550h1v1h-1zM841 550h1v1h-1zM842 550h1v1h-1zM845 550h1v1h-1zM846 550h1v1h-1zM849 550h1v1h-1zM850 550h1v1h-1zM853 550h1v1h-1zM854 550h1v1h-1zM857 550h1v1h-1zM858 550h1v1h-1zM861 550h1v1h-1zM862 550h1v1h-1zM865 550h1v1h-1zM866 550h1v1h-1zM869 550h1v1h-1zM870 550h1v1h-1zM873 550h1v1h-1zM874 550h1v1h-1zM877 550h1v1h-1zM878 550h1v1h-1zM881 550h1v1h-1zM882 550h1v1h-1zM885 550h1v1h-1zM886 550h1v1h-1zM889 550h1v1h-1zM890 550h1v1h-1zM893 550h1v1h-1zM894 550h1v1h-1zM897 550h1v1h-1zM898 550h1v1h-1zM901 550h1v1h-1zM902 550h1v1h-1zM905 550h1v1h-1zM906 550h1v1h-1zM909 550h1v1h-1zM910 550h1v1h-1zM913 550h1v1h-1zM914 550h1v1h-1zM917 550h1v1h-1zM918 550h1v1h-1zM921 550h1v1h-1zM922 550h1v1h-1zM925 550h1v1h-1zM926 550h1v1h-1zM929 550h1v1h-1zM930 550h1v1h-1zM933 550h1v1h-1zM934 550h1v1h-1zM937 550h1v1h-1zM938 550h1v1h-1zM941 550h1v1h-1zM942 550h1v1h-1zM945 550h1v1h-1zM946 550h1v1h-1zM949 550h1v1h-1zM950 550h1v1h-1zM953 550h1v1h-1zM954 550h1v1h-1zM957 550h1v1h-1zM958 550h1v1h-1zM961 550h1v1h-1zM962 550h1v1h-1zM965 550h1v1h-1zM966 550h1v1h-1zM969 550h1v1h-1zM970 550h1v1h-1zM973 550h1v1h-1zM974 550h1v1h-1zM977 550h1v1h-1zM978 550h1v1h-1zM981 550h1v1h-1zM982 550h1v1h-1zM985 550h1v1h-1zM986 550h1v1h-1zM989 550h1v1h-1zM990 550h1v1h-1zM993 550h1v1h-1zM994 550h1v1h-1zM73 635h1v1h-1zM74 635h1v1h-1zM77 635h1v1h-1zM78 635h1v1h-1zM81 635h1v1h-1zM82 635h1v1h-1zM85 635h1v1h-1zM86 635h1v1h-1zM89 635h1v1h-1zM90 635h1v1h-1zM93 635h1v1h-1zM94 635h1v1h-1zM97 635h1v1h-1zM98 635h1v1h-1zM101 635h1v1h-1zM102 635h1v1h-1zM105 635h1v1h-1zM106 635h1v1h-1zM109 635h1v1h-1zM110 635h1v1h-1zM113 635h1v1h-1zM114 635h1v1h-1zM117 635h1v1h-1zM118 635h1v1h-1zM121 635h1v1h-1zM122 635h1v1h-1zM125 635h1v1h-1zM126 635h1v1h-1zM129 635h1v1h-1zM130 635h1v1h-1zM133 635h1v1h-1zM134 635h1v1h-1zM137 635h1v1h-1zM138 635h1v1h-1zM141 635h1v1h-1zM142 635h1v1h-1zM145 635h1v1h-1zM146 635h1v1h-1zM149 635h1v1h-1zM150 635h1v1h-1zM153 635h1v1h-1zM154 635h1v1h-1zM157 635h1v1h-1zM158 635h1v1h-1zM161 635h1v1h-1zM162 635h1v1h-1zM165 635h1v1h-1zM166 635h1v1h-1zM169 635h1v1h-1zM170 635h1v1h-1zM173 635h1v1h-1zM174 635h1v1h-1zM177 635h1v1h-1zM178 635h1v1h-1zM181 635h1v1h-1zM182 635h1v1h-1zM185 635h1v1h-1zM186 635h1v1h-1zM189 635h1v1h-1zM190 635h1v1h-1zM193 635h1v1h-1zM194 635h1v1h-1zM197 635h1v1h-1zM198 635h1v1h-1zM201 635h1v1h-1zM202 635h1v1h-1zM205 635h1v1h-1zM206 635h1v1h-1zM209 635h1v1h-1zM210 635h1v1h-1zM213 635h1v1h-1zM214 635h1v1h-1zM217 635h1v1h-1zM218 635h1v1h-1zM221 635h1v1h-1zM222 635h1v1h-1zM225 635h1v1h-1zM226 635h1v1h-1zM229 635h1v1h-1zM230 635h1v1h-1zM233 635h1v1h-1zM234 635h1v1h-1zM237 635h1v1h-1zM238 635h1v1h-1zM241 635h1v1h-1zM242 635h1v1h-1zM245 635h1v1h-1zM246 635h1v1h-1zM249 635h1v1h-1zM250 635h1v1h-1zM253 635h1v1h-1zM254 635h1v1h-1zM257 635h1v1h-1zM258 635h1v1h-1zM261 635h1v1h-1zM262 635h1v1h-1zM265 635h1v1h-1zM266 635h1v1h-1zM269 635h1v1h-1zM270 635h1v1h-1zM273 635h1v1h-1zM274 635h1v1h-1zM277 635h1v1h-1zM278 635h1v1h-1zM281 635h1v1h-1zM282 635h1v1h-1zM285 635h1v1h-1zM286 635h1v1h-1zM289 635h1v1h-1zM290 635h1v1h-1zM293 635h1v1h-1zM294 635h1v1h-1zM297 635h1v1h-1zM298 635h1v1h-1zM301 635h1v1h-1zM302 635h1v1h-1zM305 635h1v1h-1zM306 635h1v1h-1zM309 635h1v1h-1zM310 635h1v1h-1zM313 635h1v1h-1zM314 635h1v1h-1zM317 635h1v1h-1zM318 635h1v1h-1zM321 635h1v1h-1zM322 635h1v1h-1zM325 635h1v1h-1zM326 635h1v1h-1zM329 635h1v1h-1zM330 635h1v1h-1zM333 635h1v1h-1zM334 635h1v1h-1zM337 635h1v1h-1zM338 635h1v1h-1zM341 635h1v1h-1zM342 635h1v1h-1zM345 635h1v1h-1zM346 635h1v1h-1zM349 635h1v1h-1zM350 635h1v1h-1zM353 635h1v1h-1zM354 635h1v1h-1zM357 635h1v1h-1zM358 635h1v1h-1zM361 635h1v1h-1zM362 635h1v1h-1zM365 635h1v1h-1zM366 635h1v1h-1zM369 635h1v1h-1zM370 635h1v1h-1zM373 635h1v1h-1zM374 635h1v1h-1zM377 635h1v1h-1zM378 635h1v1h-1zM381 635h1v1h-1zM382 635h1v1h-1zM385 635h1v1h-1zM386 635h1v1h-1zM389 635h1v1h-1zM390 635h1v1h-1zM393 635h1v1h-1zM394 635h1v1h-1zM397 635h1v1h-1zM398 635h1v1h-1zM401 635h1v1h-1zM402 635h1v1h-1zM405 635h1v1h-1zM406 635h1v1h-1zM409 635h1v1h-1zM410 635h1v1h-1zM413 635h1v1h-1zM414 635h1v1h-1zM417 635h1v1h-1zM418 635h1v1h-1zM421 635h1v1h-1zM422 635h1v1h-1zM425 635h1v1h-1zM426 635h1v1h-1zM429 635h1v1h-1zM430 635h1v1h-1zM433 635h1v1h-1zM434 635h1v1h-1zM437 635h1v1h-1zM438 635h1v1h-1zM441 635h1v1h-1zM442 635h1v1h-1zM445 635h1v1h-1zM446 635h1v1h-1zM449 635h1v1h-1zM450 635h1v1h-1zM453 635h1v1h-1zM454 635h1v1h-1zM457 635h1v1h-1zM458 635h1v1h-1zM461 635h1v1h-1zM462 635h1v1h-1zM465 635h1v1h-1zM466 635h1v1h-1zM469 635h1v1h-1zM470 635h1v1h-1zM473 635h1v1h-1zM474 635h1v1h-1zM477 635h1v1h-1zM478 635h1v1h-1zM481 635h1v1h-1zM482 635h1v1h-1zM485 635h1v1h-1zM486 635h1v1h-1zM489 635h1v1h-1zM490 635h1v1h-1zM493 635h1v1h-1zM494 635h1v1h-1zM497 635h1v1h-1zM498 635h1v1h-1zM501 635h1v1h-1zM502 635h1v1h-1zM505 635h1v1h-1zM506 635h1v1h-1zM509 635h1v1h-1zM510 635h1v1h-1zM513 635h1v1h-1zM514 635h1v1h-1zM517 635h1v1h-1zM518 635h1v1h-1zM521 635h1v1h-1zM522 635h1v1h-1zM525 635h1v1h-1zM526 635h1v1h-1zM529 635h1v1h-1zM530 635h1v1h-1zM533 635h1v1h-1zM534 635h1v1h-1zM537 635h1v1h-1zM538 635h1v1h-1zM541 635h1v1h-1zM542 635h1v1h-1zM545 635h1v1h-1zM546 635h1v1h-1zM549 635h1v1h-1zM550 635h1v1h-1zM553 635h1v1h-1zM554 635h1v1h-1zM557 635h1v1h-1zM558 635h1v1h-1zM561 635h1v1h-1zM562 635h1v1h-1zM565 635h1v1h-1zM566 635h1v1h-1zM569 635h1v1h-1zM570 635h1v1h-1zM573 635h1v1h-1zM574 635h1v1h-1zM577 635h1v1h-1zM578 635h1v1h-1zM581 635h1v1h-1zM582 635h1v1h-1zM585 635h1v1h-1zM586 635h1v1h-1zM589 635h1v1h-1zM590 635h1v1h-1zM593 635h1v1h-1zM594 635h1v1h-1zM597 635h1v1h-1zM598 635h1v1h-1zM601 635h1v1h-1zM602 635h1v1h-1zM605 635h1v1h-1zM606 635h1v1h-1zM609 635h1v1h-1zM610 635h1v1h-1zM613 635h1v1h-1zM614 635h1v1h-1zM617 635h1v1h-1zM618 635h1v1h-1zM621 635h1v1h-1zM622 635h1v1h-1zM625 635h1v1h-1zM626 635h1v1h-1zM629 635h1v1h-1zM630 635h1v1h-1zM633 635h1v1h-1zM634 635h1v1h-1zM637 635h1v1h-1zM638 635h1v1h-1zM641 635h1v1h-1zM642 635h1v1h-1zM645 635h1v1h-1zM646 635h1v1h-1zM649 635h1v1h-1zM650 635h1v1h-1zM653 635h1v1h-1zM654 635h1v1h-1zM657 635h1v1h-1zM658 635h1v1h-1zM661 635h1v1h-1zM662 635h1v1h-1zM665 635h1v1h-1zM666 635h1v1h-1zM669 635h1v1h-1zM670 635h1v1h-1zM673 635h1v1h-1zM674 635h1v1h-1zM677 635h1v1h-1zM678 635h1v1h-1zM681 635h1v1h-1zM682 635h1v1h-1zM685 635h1v1h-1zM686 635h1v1h-1zM689 635h1v1h-1zM690 635h1v1h-1zM693 635h1v1h-1zM694 635h1v1h-1zM697 635h1v1h-1zM698 635h1v1h-1zM701 635h1v1h-1zM702 635h1v1h-1zM705 635h1v1h-1zM706 635h1v1h-1zM709 635h1v1h-1zM710 635h1v1h-1zM713 635h1v1h-1zM714 635h1v1h-1zM717 635h1v1h-1zM718 635h1v1h-1zM721 635h1v1h-1zM722 635h1v1h-1zM725 635h1v1h-1zM726 635h1v1h-1zM729 635h1v1h-1zM730 635h1v1h-1zM733 635h1v1h-1zM734 635h1v1h-1zM737 635h1v1h-1zM738 635h1v1h-1zM741 635h1v1h-1zM742 635h1v1h-1zM745 635h1v1h-1zM746 635h1v1h-1zM749 635h1v1h-1zM750 635h1v1h-1zM753 635h1v1h-1zM754 635h1v1h-1zM757 635h1v1h-1zM758 635h1v1h-1zM761 635h1v1h-1zM762 635h1v1h-1zM765 635h1v1h-1zM766 635h1v1h-1zM769 635h1v1h-1zM770 635h1v1h-1zM773 635h1v1h-1zM774 635h1v1h-1zM777 635h1v1h-1zM778 635h1v1h-1zM781 635h1v1h-1zM782 635h1v1h-1zM785 635h1v1h-1zM786 635h1v1h-1zM789 635h1v1h-1zM790 635h1v1h-1zM793 635h1v1h-1zM794 635h1v1h-1zM797 635h1v1h-1zM798 635h1v1h-1zM801 635h1v1h-1zM802 635h1v1h-1zM805 635h1v1h-1zM806 635h1v1h-1zM809 635h1v1h-1zM810 635h1v1h-1zM813 635h1v1h-1zM814 635h1v1h-1zM817 635h1v1h-1zM818 635h1v1h-1zM821 635h1v1h-1zM822 635h1v1h-1zM825 635h1v1h-1zM826 635h1v1h-1zM829 635h1v1h-1zM830 635h1v1h-1zM833 635h1v1h-1zM834 635h1v1h-1zM837 635h1v1h-1zM838 635h1v1h-1zM841 635h1v1h-1zM842 635h1v1h-1zM845 635h1v1h-1zM846 635h1v1h-1zM849 635h1v1h-1zM850 635h1v1h-1zM853 635h1v1h-1zM854 635h1v1h-1zM857 635h1v1h-1zM858 635h1v1h-1zM861 635h1v1h-1zM862 635h1v1h-1zM865 635h1v1h-1zM866 635h1v1h-1zM869 635h1v1h-1zM870 635h1v1h-1zM873 635h1v1h-1zM874 635h1v1h-1zM877 635h1v1h-1zM878 635h1v1h-1zM881 635h1v1h-1zM882 635h1v1h-1zM885 635h1v1h-1zM886 635h1v1h-1zM889 635h1v1h-1zM890 635h1v1h-1zM893 635h1v1h-1zM894 635h1v1h-1zM897 635h1v1h-1zM898 635h1v1h-1zM901 635h1v1h-1zM902 635h1v1h-1zM905 635h1v1h-1zM906 635h1v1h-1zM909 635h1v1h-1zM910 635h1v1h-1zM913 635h1v1h-1zM914 635h1v1h-1zM917 635h1v1h-1zM918 635h1v1h-1zM921 635h1v1h-1zM922 635h1v1h-1zM925 635h1v1h-1zM926 635h1v1h-1zM929 635h1v1h-1zM930 635h1v1h-1zM933 635h1v1h-1zM934 635h1v1h-1zM937 635h1v1h-1zM938 635h1v1h-1zM941 635h1v1h-1zM942 635h1v1h-1zM945 635h1v1h-1zM946 635h1v1h-1zM949 635h1v1h-1zM950 635h1v1h-1zM953 635h1v1h-1zM954 635h1v1h-1zM957 635h1v1h-1zM958 635h1v1h-1zM961 635h1v1h-1zM962 635h1v1h-1zM965 635h1v1h-1zM966 635h1v1h-1zM969 635h1v1h-1zM970 635h1v1h-1zM973 635h1v1h-1zM974 635h1v1h-1zM977 635h1v1h-1zM978 635h1v1h-1zM981 635h1v1h-1zM982 635h1v1h-1zM985 635h1v1h-1zM986 635h1v1h-1zM989 635h1v1h-1zM990 635h1v1h-1zM993 635h1v1h-1zM994 635h1v1h-1zM188 46h1v1h-1zM188 47h1v1h-1zM188 50h1v1h-1zM188 51h1v1h-1zM188 54h1v1h-1zM188 55h1v1h-1zM188 58h1v1h-1zM188 59h1v1h-1zM188 62h1v1h-1zM188 63h1v1h-1zM188 66h1v1h-1zM188 67h1v1h-1zM188 70h1v1h-1zM188 71h1v1h-1zM188 74h1v1h-1zM188 75h1v1h-1zM188 78h1v1h-1zM188 79h1v1h-1zM188 82h1v1h-1zM188 83h1v1h-1zM188 86h1v1h-1zM188 87h1v1h-1zM188 90h1v1h-1zM188 91h1v1h-1zM188 94h1v1h-1zM188 95h1v1h-1zM188 98h1v1h-1zM188 99h1v1h-1zM188 102h1v1h-1zM188 103h1v1h-1zM188 106h1v1h-1zM188 107h1v1h-1zM188 110h1v1h-1zM188 111h1v1h-1zM188 114h1v1h-1zM188 115h1v1h-1zM188 118h1v1h-1zM188 119h1v1h-1zM188 122h1v1h-1zM188 123h1v1h-1zM188 126h1v1h-1zM188 127h1v1h-1zM188 130h1v1h-1zM188 131h1v1h-1zM188 134h1v1h-1zM188 135h1v1h-1zM188 138h1v1h-1zM188 139h1v1h-1zM188 142h1v1h-1zM188 143h1v1h-1zM188 146h1v1h-1zM188 147h1v1h-1zM188 150h1v1h-1zM188 151h1v1h-1zM188 154h1v1h-1zM188 155h1v1h-1zM188 158h1v1h-1zM188 159h1v1h-1zM188 162h1v1h-1zM188 163h1v1h-1zM188 166h1v1h-1zM188 167h1v1h-1zM188 170h1v1h-1zM188 171h1v1h-1zM188 174h1v1h-1zM188 175h1v1h-1zM188 178h1v1h-1zM188 179h1v1h-1zM188 182h1v1h-1zM188 183h1v1h-1zM188 186h1v1h-1zM188 187h1v1h-1zM188 190h1v1h-1zM188 191h1v1h-1zM188 194h1v1h-1zM188 195h1v1h-1zM188 198h1v1h-1zM188 199h1v1h-1zM188 202h1v1h-1zM188 203h1v1h-1zM188 206h1v1h-1zM188 207h1v1h-1zM188 210h1v1h-1zM188 211h1v1h-1zM188 214h1v1h-1zM188 215h1v1h-1zM188 218h1v1h-1zM188 219h1v1h-1zM188 222h1v1h-1zM188 223h1v1h-1zM188 226h1v1h-1zM188 227h1v1h-1zM188 230h1v1h-1zM188 231h1v1h-1zM188 234h1v1h-1zM188 235h1v1h-1zM188 238h1v1h-1zM188 239h1v1h-1zM188 242h1v1h-1zM188 243h1v1h-1zM188 246h1v1h-1zM188 247h1v1h-1zM188 250h1v1h-1zM188 251h1v1h-1zM188 254h1v1h-1zM188 255h1v1h-1zM188 258h1v1h-1zM188 259h1v1h-1zM188 262h1v1h-1zM188 263h1v1h-1zM188 266h1v1h-1zM188 267h1v1h-1zM188 270h1v1h-1zM188 271h1v1h-1zM188 274h1v1h-1zM188 275h1v1h-1zM188 278h1v1h-1zM188 279h1v1h-1zM188 282h1v1h-1zM188 283h1v1h-1zM188 286h1v1h-1zM188 287h1v1h-1zM188 290h1v1h-1zM188 291h1v1h-1zM188 294h1v1h-1zM188 295h1v1h-1zM188 298h1v1h-1zM188 299h1v1h-1zM188 302h1v1h-1zM188 303h1v1h-1zM188 306h1v1h-1zM188 307h1v1h-1zM188 310h1v1h-1zM188 311h1v1h-1zM188 314h1v1h-1zM188 315h1v1h-1zM188 318h1v1h-1zM188 319h1v1h-1zM188 322h1v1h-1zM188 323h1v1h-1zM188 326h1v1h-1zM188 327h1v1h-1zM188 330h1v1h-1zM188 331h1v1h-1zM188 334h1v1h-1zM188 335h1v1h-1zM188 338h1v1h-1zM188 339h1v1h-1zM188 342h1v1h-1zM188 343h1v1h-1zM188 346h1v1h-1zM188 347h1v1h-1zM188 350h1v1h-1zM188 351h1v1h-1zM188 354h1v1h-1zM188 355h1v1h-1zM188 358h1v1h-1zM188 359h1v1h-1zM188 362h1v1h-1zM188 363h1v1h-1zM188 366h1v1h-1zM188 367h1v1h-1zM188 370h1v1h-1zM188 371h1v1h-1zM188 374h1v1h-1zM188 375h1v1h-1zM188 378h1v1h-1zM188 379h1v1h-1zM188 382h1v1h-1zM188 383h1v1h-1zM188 386h1v1h-1zM188 387h1v1h-1zM188 390h1v1h-1zM188 391h1v1h-1zM188 394h1v1h-1zM188 395h1v1h-1zM188 398h1v1h-1zM188 399h1v1h-1zM188 402h1v1h-1zM188 403h1v1h-1zM188 406h1v1h-1zM188 407h1v1h-1zM188 410h1v1h-1zM188 411h1v1h-1zM188 414h1v1h-1zM188 415h1v1h-1zM188 418h1v1h-1zM188 419h1v1h-1zM188 422h1v1h-1zM188 423h1v1h-1zM188 426h1v1h-1zM188 427h1v1h-1zM188 430h1v1h-1zM188 431h1v1h-1zM188 434h1v1h-1zM188 435h1v1h-1zM188 438h1v1h-1zM188 439h1v1h-1zM188 442h1v1h-1zM188 443h1v1h-1zM188 446h1v1h-1zM188 447h1v1h-1zM188 450h1v1h-1zM188 451h1v1h-1zM188 454h1v1h-1zM188 455h1v1h-1zM188 458h1v1h-1zM188 459h1v1h-1zM188 462h1v1h-1zM188 463h1v1h-1zM188 466h1v1h-1zM188 467h1v1h-1zM188 470h1v1h-1zM188 471h1v1h-1zM188 474h1v1h-1zM188 475h1v1h-1zM188 478h1v1h-1zM188 479h1v1h-1zM188 482h1v1h-1zM188 483h1v1h-1zM188 486h1v1h-1zM188 487h1v1h-1zM188 490h1v1h-1zM188 491h1v1h-1zM188 494h1v1h-1zM188 495h1v1h-1zM188 498h1v1h-1zM188 499h1v1h-1zM188 502h1v1h-1zM188 503h1v1h-1zM188 506h1v1h-1zM188 507h1v1h-1zM188 510h1v1h-1zM188 511h1v1h-1zM188 514h1v1h-1zM188 515h1v1h-1zM188 518h1v1h-1zM188 519h1v1h-1zM188 522h1v1h-1zM188 523h1v1h-1zM188 526h1v1h-1zM188 527h1v1h-1zM188 530h1v1h-1zM188 531h1v1h-1zM188 534h1v1h-1zM188 535h1v1h-1zM188 538h1v1h-1zM188 539h1v1h-1zM188 542h1v1h-1zM188 543h1v1h-1zM188 546h1v1h-1zM188 547h1v1h-1zM188 550h1v1h-1zM188 551h1v1h-1zM188 554h1v1h-1zM188 555h1v1h-1zM188 558h1v1h-1zM188 559h1v1h-1zM188 562h1v1h-1zM188 563h1v1h-1zM188 566h1v1h-1zM188 567h1v1h-1zM188 570h1v1h-1zM188 571h1v1h-1zM188 574h1v1h-1zM188 575h1v1h-1zM188 578h1v1h-1zM188 579h1v1h-1zM188 582h1v1h-1zM188 583h1v1h-1zM188 586h1v1h-1zM188 587h1v1h-1zM188 590h1v1h-1zM188 591h1v1h-1zM188 594h1v1h-1zM188 595h1v1h-1zM188 598h1v1h-1zM188 599h1v1h-1zM188 602h1v1h-1zM188 603h1v1h-1zM188 606h1v1h-1zM188 607h1v1h-1zM188 610h1v1h-1zM188 611h1v1h-1zM188 614h1v1h-1zM188 615h1v1h-1zM188 618h1v1h-1zM188 619h1v1h-1zM188 622h1v1h-1zM188 623h1v1h-1zM188 626h1v1h-1zM188 627h1v1h-1zM188 630h1v1h-1zM188 631h1v1h-1zM188 634h1v1h-1zM188 635h1v1h-1zM188 638h1v1h-1zM188 639h1v1h-1zM188 642h1v1h-1zM188 643h1v1h-1zM188 646h1v1h-1zM188 647h1v1h-1zM188 650h1v1h-1zM188 651h1v1h-1zM188 654h1v1h-1zM188 655h1v1h-1zM188 658h1v1h-1zM188 659h1v1h-1zM188 662h1v1h-1zM188 663h1v1h-1zM188 666h1v1h-1zM188 667h1v1h-1zM188 670h1v1h-1zM188 671h1v1h-1zM188 674h1v1h-1zM188 675h1v1h-1zM188 678h1v1h-1zM188 679h1v1h-1zM188 682h1v1h-1zM188 683h1v1h-1zM188 686h1v1h-1zM188 687h1v1h-1zM188 690h1v1h-1zM188 691h1v1h-1zM188 694h1v1h-1zM188 695h1v1h-1zM188 698h1v1h-1zM188 699h1v1h-1zM188 702h1v1h-1zM188 703h1v1h-1zM188 706h1v1h-1zM188 707h1v1h-1zM188 710h1v1h-1zM188 711h1v1h-1zM188 714h1v1h-1zM188 715h1v1h-1zM188 718h1v1h-1zM188 719h1v1h-1zM304 46h1v1h-1zM304 47h1v1h-1zM304 50h1v1h-1zM304 51h1v1h-1zM304 54h1v1h-1zM304 55h1v1h-1zM304 58h1v1h-1zM304 59h1v1h-1zM304 62h1v1h-1zM304 63h1v1h-1zM304 66h1v1h-1zM304 67h1v1h-1zM304 70h1v1h-1zM304 71h1v1h-1zM304 74h1v1h-1zM304 75h1v1h-1zM304 78h1v1h-1zM304 79h1v1h-1zM304 82h1v1h-1zM304 83h1v1h-1zM304 86h1v1h-1zM304 87h1v1h-1zM304 90h1v1h-1zM304 91h1v1h-1zM304 94h1v1h-1zM304 95h1v1h-1zM304 98h1v1h-1zM304 99h1v1h-1zM304 102h1v1h-1zM304 103h1v1h-1zM304 106h1v1h-1zM304 107h1v1h-1zM304 110h1v1h-1zM304 111h1v1h-1zM304 114h1v1h-1zM304 115h1v1h-1zM304 118h1v1h-1zM304 119h1v1h-1zM304 122h1v1h-1zM304 123h1v1h-1zM304 126h1v1h-1zM304 127h1v1h-1zM304 130h1v1h-1zM304 131h1v1h-1zM304 134h1v1h-1zM304 135h1v1h-1zM304 138h1v1h-1zM304 139h1v1h-1zM304 142h1v1h-1zM304 143h1v1h-1zM304 146h1v1h-1zM304 147h1v1h-1zM304 150h1v1h-1zM304 151h1v1h-1zM304 154h1v1h-1zM304 155h1v1h-1zM304 158h1v1h-1zM304 159h1v1h-1zM304 162h1v1h-1zM304 163h1v1h-1zM304 166h1v1h-1zM304 167h1v1h-1zM304 170h1v1h-1zM304 171h1v1h-1zM304 174h1v1h-1zM304 175h1v1h-1zM304 178h1v1h-1zM304 179h1v1h-1zM304 182h1v1h-1zM304 183h1v1h-1zM304 186h1v1h-1zM304 187h1v1h-1zM304 190h1v1h-1zM304 191h1v1h-1zM304 194h1v1h-1zM304 195h1v1h-1zM304 198h1v1h-1zM304 199h1v1h-1zM304 202h1v1h-1zM304 203h1v1h-1zM304 206h1v1h-1zM304 207h1v1h-1zM304 210h1v1h-1zM304 211h1v1h-1zM304 214h1v1h-1zM304 215h1v1h-1zM304 218h1v1h-1zM304 219h1v1h-1zM304 222h1v1h-1zM304 223h1v1h-1zM304 226h1v1h-1zM304 227h1v1h-1zM304 230h1v1h-1zM304 231h1v1h-1zM304 234h1v1h-1zM304 235h1v1h-1zM304 238h1v1h-1zM304 239h1v1h-1zM304 242h1v1h-1zM304 243h1v1h-1zM304 246h1v1h-1zM304 247h1v1h-1zM304 250h1v1h-1zM304 251h1v1h-1zM304 254h1v1h-1zM304 255h1v1h-1zM304 258h1v1h-1zM304 259h1v1h-1zM304 262h1v1h-1zM304 263h1v1h-1zM304 266h1v1h-1zM304 267h1v1h-1zM304 270h1v1h-1zM304 271h1v1h-1zM304 274h1v1h-1zM304 275h1v1h-1zM304 278h1v1h-1zM304 279h1v1h-1zM304 282h1v1h-1zM304 283h1v1h-1zM304 286h1v1h-1zM304 287h1v1h-1zM304 290h1v1h-1zM304 291h1v1h-1zM304 294h1v1h-1zM304 295h1v1h-1zM304 298h1v1h-1zM304 299h1v1h-1zM304 302h1v1h-1zM304 303h1v1h-1zM304 306h1v1h-1zM304 307h1v1h-1zM304 310h1v1h-1zM304 311h1v1h-1zM304 314h1v1h-1zM304 315h1v1h-1zM304 318h1v1h-1zM304 319h1v1h-1zM304 322h1v1h-1zM304 323h1v1h-1zM304 326h1v1h-1zM304 327h1v1h-1zM304 330h1v1h-1zM304 331h1v1h-1zM304 334h1v1h-1zM304 335h1v1h-1zM304 338h1v1h-1zM304 339h1v1h-1zM304 342h1v1h-1zM304 343h1v1h-1zM304 346h1v1h-1zM304 347h1v1h-1zM304 350h1v1h-1zM304 351h1v1h-1zM304 354h1v1h-1zM304 355h1v1h-1zM304 358h1v1h-1zM304 359h1v1h-1zM304 362h1v1h-1zM304 363h1v1h-1zM304 366h1v1h-1zM304 367h1v1h-1zM304 370h1v1h-1zM304 371h1v1h-1zM304 374h1v1h-1zM304 375h1v1h-1zM304 378h1v1h-1zM304 379h1v1h-1zM304 382h1v1h-1zM304 383h1v1h-1zM304 386h1v1h-1zM304 387h1v1h-1zM304 390h1v1h-1zM304 391h1v1h-1zM304 394h1v1h-1zM304 395h1v1h-1zM304 398h1v1h-1zM304 399h1v1h-1zM304 402h1v1h-1zM304 403h1v1h-1zM304 406h1v1h-1zM304 407h1v1h-1zM304 410h1v1h-1zM304 411h1v1h-1zM304 414h1v1h-1zM304 415h1v1h-1zM304 418h1v1h-1zM304 419h1v1h-1zM304 422h1v1h-1zM304 423h1v1h-1zM304 426h1v1h-1zM304 427h1v1h-1zM304 430h1v1h-1zM304 431h1v1h-1zM304 434h1v1h-1zM304 435h1v1h-1zM304 438h1v1h-1zM304 439h1v1h-1zM304 442h1v1h-1zM304 443h1v1h-1zM304 446h1v1h-1zM304 447h1v1h-1zM304 450h1v1h-1zM304 451h1v1h-1zM304 454h1v1h-1zM304 455h1v1h-1zM304 458h1v1h-1zM304 459h1v1h-1zM304 462h1v1h-1zM304 463h1v1h-1zM304 466h1v1h-1zM304 467h1v1h-1zM304 470h1v1h-1zM304 471h1v1h-1zM304 474h1v1h-1zM304 475h1v1h-1zM304 478h1v1h-1zM304 479h1v1h-1zM304 482h1v1h-1zM304 483h1v1h-1zM304 486h1v1h-1zM304 487h1v1h-1zM304 490h1v1h-1zM304 491h1v1h-1zM304 494h1v1h-1zM304 495h1v1h-1zM304 498h1v1h-1zM304 499h1v1h-1zM304 502h1v1h-1zM304 503h1v1h-1zM304 506h1v1h-1zM304 507h1v1h-1zM304 510h1v1h-1zM304 511h1v1h-1zM304 514h1v1h-1zM304 515h1v1h-1zM304 518h1v1h-1zM304 519h1v1h-1zM304 522h1v1h-1zM304 523h1v1h-1zM304 526h1v1h-1zM304 527h1v1h-1zM304 530h1v1h-1zM304 531h1v1h-1zM304 534h1v1h-1zM304 535h1v1h-1zM304 538h1v1h-1zM304 539h1v1h-1zM304 542h1v1h-1zM304 543h1v1h-1zM304 546h1v1h-1zM304 547h1v1h-1zM304 550h1v1h-1zM304 551h1v1h-1zM304 554h1v1h-1zM304 555h1v1h-1zM304 558h1v1h-1zM304 559h1v1h-1zM304 562h1v1h-1zM304 563h1v1h-1zM304 566h1v1h-1zM304 567h1v1h-1zM304 570h1v1h-1zM304 571h1v1h-1zM304 574h1v1h-1zM304 575h1v1h-1zM304 578h1v1h-1zM304 579h1v1h-1zM304 582h1v1h-1zM304 583h1v1h-1zM304 586h1v1h-1zM304 587h1v1h-1zM304 590h1v1h-1zM304 591h1v1h-1zM304 594h1v1h-1zM304 595h1v1h-1zM304 598h1v1h-1zM304 599h1v1h-1zM304 602h1v1h-1zM304 603h1v1h-1zM304 606h1v1h-1zM304 607h1v1h-1zM304 610h1v1h-1zM304 611h1v1h-1zM304 614h1v1h-1zM304 615h1v1h-1zM304 618h1v1h-1zM304 619h1v1h-1zM304 622h1v1h-1zM304 623h1v1h-1zM304 626h1v1h-1zM304 627h1v1h-1zM304 630h1v1h-1zM304 631h1v1h-1zM304 634h1v1h-1zM304 635h1v1h-1zM304 638h1v1h-1zM304 639h1v1h-1zM304 642h1v1h-1zM304 643h1v1h-1zM304 646h1v1h-1zM304 647h1v1h-1zM304 650h1v1h-1zM304 651h1v1h-1zM304 654h1v1h-1zM304 655h1v1h-1zM304 658h1v1h-1zM304 659h1v1h-1zM304 662h1v1h-1zM304 663h1v1h-1zM304 666h1v1h-1zM304 667h1v1h-1zM304 670h1v1h-1zM304 671h1v1h-1zM304 674h1v1h-1zM304 675h1v1h-1zM304 678h1v1h-1zM304 679h1v1h-1zM304 682h1v1h-1zM304 683h1v1h-1zM304 686h1v1h-1zM304 687h1v1h-1zM304 690h1v1h-1zM304 691h1v1h-1zM304 694h1v1h-1zM304 695h1v1h-1zM304 698h1v1h-1zM304 699h1v1h-1zM304 702h1v1h-1zM304 703h1v1h-1zM304 706h1v1h-1zM304 707h1v1h-1zM304 710h1v1h-1zM304 711h1v1h-1zM304 714h1v1h-1zM304 715h1v1h-1zM304 718h1v1h-1zM304 719h1v1h-1zM419 46h1v1h-1zM419 47h1v1h-1zM419 50h1v1h-1zM419 51h1v1h-1zM419 54h1v1h-1zM419 55h1v1h-1zM419 58h1v1h-1zM419 59h1v1h-1zM419 62h1v1h-1zM419 63h1v1h-1zM419 66h1v1h-1zM419 67h1v1h-1zM419 70h1v1h-1zM419 71h1v1h-1zM419 74h1v1h-1zM419 75h1v1h-1zM419 78h1v1h-1zM419 79h1v1h-1zM419 82h1v1h-1zM419 83h1v1h-1zM419 86h1v1h-1zM419 87h1v1h-1zM419 90h1v1h-1zM419 91h1v1h-1zM419 94h1v1h-1zM419 95h1v1h-1zM419 98h1v1h-1zM419 99h1v1h-1zM419 102h1v1h-1zM419 103h1v1h-1zM419 106h1v1h-1zM419 107h1v1h-1zM419 110h1v1h-1zM419 111h1v1h-1zM419 114h1v1h-1zM419 115h1v1h-1zM419 118h1v1h-1zM419 119h1v1h-1zM419 122h1v1h-1zM419 123h1v1h-1zM419 126h1v1h-1zM419 127h1v1h-1zM419 130h1v1h-1zM419 131h1v1h-1zM419 134h1v1h-1zM419 135h1v1h-1zM419 138h1v1h-1zM419 139h1v1h-1zM419 142h1v1h-1zM419 143h1v1h-1zM419 146h1v1h-1zM419 147h1v1h-1zM419 150h1v1h-1zM419 151h1v1h-1zM419 154h1v1h-1zM419 155h1v1h-1zM419 158h1v1h-1zM419 159h1v1h-1zM419 162h1v1h-1zM419 163h1v1h-1zM419 166h1v1h-1zM419 167h1v1h-1zM419 170h1v1h-1zM419 171h1v1h-1zM419 174h1v1h-1zM419 175h1v1h-1zM419 178h1v1h-1zM419 179h1v1h-1zM419 182h1v1h-1zM419 183h1v1h-1zM419 186h1v1h-1zM419 187h1v1h-1zM419 190h1v1h-1zM419 191h1v1h-1zM419 194h1v1h-1zM419 195h1v1h-1zM419 198h1v1h-1zM419 199h1v1h-1zM419 202h1v1h-1zM419 203h1v1h-1zM419 206h1v1h-1zM419 207h1v1h-1zM419 210h1v1h-1zM419 211h1v1h-1zM419 214h1v1h-1zM419 215h1v1h-1zM419 218h1v1h-1zM419 219h1v1h-1zM419 222h1v1h-1zM419 223h1v1h-1zM419 226h1v1h-1zM419 227h1v1h-1zM419 230h1v1h-1zM419 231h1v1h-1zM419 234h1v1h-1zM419 235h1v1h-1zM419 238h1v1h-1zM419 239h1v1h-1zM419 242h1v1h-1zM419 243h1v1h-1zM419 246h1v1h-1zM419 247h1v1h-1zM419 250h1v1h-1zM419 251h1v1h-1zM419 254h1v1h-1zM419 255h1v1h-1zM419 258h1v1h-1zM419 259h1v1h-1zM419 262h1v1h-1zM419 263h1v1h-1zM419 266h1v1h-1zM419 267h1v1h-1zM419 270h1v1h-1zM419 271h1v1h-1zM419 274h1v1h-1zM419 275h1v1h-1zM419 278h1v1h-1zM419 279h1v1h-1zM419 282h1v1h-1zM419 283h1v1h-1zM419 286h1v1h-1zM419 287h1v1h-1zM419 290h1v1h-1zM419 291h1v1h-1zM419 294h1v1h-1zM419 295h1v1h-1zM419 298h1v1h-1zM419 299h1v1h-1zM419 302h1v1h-1zM419 303h1v1h-1zM419 306h1v1h-1zM419 307h1v1h-1zM419 310h1v1h-1zM419 311h1v1h-1zM419 314h1v1h-1zM419 315h1v1h-1zM419 318h1v1h-1zM419 319h1v1h-1zM419 322h1v1h-1zM419 323h1v1h-1zM419 326h1v1h-1zM419 327h1v1h-1zM419 330h1v1h-1zM419 331h1v1h-1zM419 334h1v1h-1zM419 335h1v1h-1zM419 338h1v1h-1zM419 339h1v1h-1zM419 342h1v1h-1zM419 343h1v1h-1zM419 346h1v1h-1zM419 347h1v1h-1zM419 350h1v1h-1zM419 351h1v1h-1zM419 354h1v1h-1zM419 355h1v1h-1zM419 358h1v1h-1zM419 359h1v1h-1zM419 362h1v1h-1zM419 363h1v1h-1zM419 366h1v1h-1zM419 367h1v1h-1zM419 370h1v1h-1zM419 371h1v1h-1zM419 374h1v1h-1zM419 375h1v1h-1zM419 378h1v1h-1zM419 379h1v1h-1zM419 382h1v1h-1zM419 383h1v1h-1zM419 386h1v1h-1zM419 387h1v1h-1zM419 390h1v1h-1zM419 391h1v1h-1zM419 394h1v1h-1zM419 395h1v1h-1zM419 398h1v1h-1zM419 399h1v1h-1zM419 402h1v1h-1zM419 403h1v1h-1zM419 406h1v1h-1zM419 407h1v1h-1zM419 410h1v1h-1zM419 411h1v1h-1zM419 414h1v1h-1zM419 415h1v1h-1zM419 418h1v1h-1zM419 419h1v1h-1zM419 422h1v1h-1zM419 423h1v1h-1zM419 426h1v1h-1zM419 427h1v1h-1zM419 430h1v1h-1zM419 431h1v1h-1zM419 434h1v1h-1zM419 435h1v1h-1zM419 438h1v1h-1zM419 439h1v1h-1zM419 442h1v1h-1zM419 443h1v1h-1zM419 446h1v1h-1zM419 447h1v1h-1zM419 450h1v1h-1zM419 451h1v1h-1zM419 454h1v1h-1zM419 455h1v1h-1zM419 458h1v1h-1zM419 459h1v1h-1zM419 462h1v1h-1zM419 463h1v1h-1zM419 466h1v1h-1zM419 467h1v1h-1zM419 470h1v1h-1zM419 471h1v1h-1zM419 474h1v1h-1zM419 475h1v1h-1zM419 478h1v1h-1zM419 479h1v1h-1zM419 482h1v1h-1zM419 483h1v1h-1zM419 486h1v1h-1zM419 487h1v1h-1zM419 490h1v1h-1zM419 491h1v1h-1zM419 494h1v1h-1zM419 495h1v1h-1zM419 498h1v1h-1zM419 499h1v1h-1zM419 502h1v1h-1zM419 503h1v1h-1zM419 506h1v1h-1zM419 507h1v1h-1zM419 510h1v1h-1zM419 511h1v1h-1zM419 514h1v1h-1zM419 515h1v1h-1zM419 518h1v1h-1zM419 519h1v1h-1zM419 522h1v1h-1zM419 523h1v1h-1zM419 526h1v1h-1zM419 527h1v1h-1zM419 530h1v1h-1zM419 531h1v1h-1zM419 534h1v1h-1zM419 535h1v1h-1zM419 538h1v1h-1zM419 539h1v1h-1zM419 542h1v1h-1zM419 543h1v1h-1zM419 546h1v1h-1zM419 547h1v1h-1zM419 550h1v1h-1zM419 551h1v1h-1zM419 554h1v1h-1zM419 555h1v1h-1zM419 558h1v1h-1zM419 559h1v1h-1zM419 562h1v1h-1zM419 563h1v1h-1zM419 566h1v1h-1zM419 567h1v1h-1zM419 570h1v1h-1zM419 571h1v1h-1zM419 574h1v1h-1zM419 575h1v1h-1zM419 578h1v1h-1zM419 579h1v1h-1zM419 582h1v1h-1zM419 583h1v1h-1zM419 586h1v1h-1zM419 587h1v1h-1zM419 590h1v1h-1zM419 591h1v1h-1zM419 594h1v1h-1zM419 595h1v1h-1zM419 598h1v1h-1zM419 599h1v1h-1zM419 602h1v1h-1zM419 603h1v1h-1zM419 606h1v1h-1zM419 607h1v1h-1zM419 610h1v1h-1zM419 611h1v1h-1zM419 614h1v1h-1zM419 615h1v1h-1zM419 618h1v1h-1zM419 619h1v1h-1zM419 622h1v1h-1zM419 623h1v1h-1zM419 626h1v1h-1zM419 627h1v1h-1zM419 630h1v1h-1zM419 631h1v1h-1zM419 634h1v1h-1zM419 635h1v1h-1zM419 638h1v1h-1zM419 639h1v1h-1zM419 642h1v1h-1zM419 643h1v1h-1zM419 646h1v1h-1zM419 647h1v1h-1zM419 650h1v1h-1zM419 651h1v1h-1zM419 654h1v1h-1zM419 655h1v1h-1zM419 658h1v1h-1zM419 659h1v1h-1zM419 662h1v1h-1zM419 663h1v1h-1zM419 666h1v1h-1zM419 667h1v1h-1zM419 670h1v1h-1zM419 671h1v1h-1zM419 674h1v1h-1zM419 675h1v1h-1zM419 678h1v1h-1zM419 679h1v1h-1zM419 682h1v1h-1zM419 683h1v1h-1zM419 686h1v1h-1zM419 687h1v1h-1zM419 690h1v1h-1zM419 691h1v1h-1zM419 694h1v1h-1zM419 695h1v1h-1zM419 698h1v1h-1zM419 699h1v1h-1zM419 702h1v1h-1zM419 703h1v1h-1zM419 706h1v1h-1zM419 707h1v1h-1zM419 710h1v1h-1zM419 711h1v1h-1zM419 714h1v1h-1zM419 715h1v1h-1zM419 718h1v1h-1zM419 719h1v1h-1zM535 46h1v1h-1zM535 47h1v1h-1zM535 50h1v1h-1zM535 51h1v1h-1zM535 54h1v1h-1zM535 55h1v1h-1zM535 58h1v1h-1zM535 59h1v1h-1zM535 62h1v1h-1zM535 63h1v1h-1zM535 66h1v1h-1zM535 67h1v1h-1zM535 70h1v1h-1zM535 71h1v1h-1zM535 74h1v1h-1zM535 75h1v1h-1zM535 78h1v1h-1zM535 79h1v1h-1zM535 82h1v1h-1zM535 83h1v1h-1zM535 86h1v1h-1zM535 87h1v1h-1zM535 90h1v1h-1zM535 91h1v1h-1zM535 94h1v1h-1zM535 95h1v1h-1zM535 98h1v1h-1zM535 99h1v1h-1zM535 102h1v1h-1zM535 103h1v1h-1zM535 106h1v1h-1zM535 107h1v1h-1zM535 110h1v1h-1zM535 111h1v1h-1zM535 114h1v1h-1zM535 115h1v1h-1zM535 118h1v1h-1zM535 119h1v1h-1zM535 122h1v1h-1zM535 123h1v1h-1zM535 126h1v1h-1zM535 127h1v1h-1zM535 130h1v1h-1zM535 131h1v1h-1zM535 134h1v1h-1zM535 135h1v1h-1zM535 138h1v1h-1zM535 139h1v1h-1zM535 142h1v1h-1zM535 143h1v1h-1zM535 146h1v1h-1zM535 147h1v1h-1zM535 150h1v1h-1zM535 151h1v1h-1zM535 154h1v1h-1zM535 155h1v1h-1zM535 158h1v1h-1zM535 159h1v1h-1zM535 162h1v1h-1zM535 163h1v1h-1zM535 166h1v1h-1zM535 167h1v1h-1zM535 170h1v1h-1zM535 171h1v1h-1zM535 174h1v1h-1zM535 175h1v1h-1zM535 178h1v1h-1zM535 179h1v1h-1zM535 182h1v1h-1zM535 183h1v1h-1zM535 186h1v1h-1zM535 187h1v1h-1zM535 190h1v1h-1zM535 191h1v1h-1zM535 194h1v1h-1zM535 195h1v1h-1zM535 198h1v1h-1zM535 199h1v1h-1zM535 202h1v1h-1zM535 203h1v1h-1zM535 206h1v1h-1zM535 207h1v1h-1zM535 210h1v1h-1zM535 211h1v1h-1zM535 214h1v1h-1zM535 215h1v1h-1zM535 218h1v1h-1zM535 219h1v1h-1zM535 222h1v1h-1zM535 223h1v1h-1zM535 226h1v1h-1zM535 227h1v1h-1zM535 230h1v1h-1zM535 231h1v1h-1zM535 234h1v1h-1zM535 235h1v1h-1zM535 238h1v1h-1zM535 239h1v1h-1zM535 242h1v1h-1zM535 243h1v1h-1zM535 246h1v1h-1zM535 247h1v1h-1zM535 250h1v1h-1zM535 251h1v1h-1zM535 254h1v1h-1zM535 255h1v1h-1zM535 258h1v1h-1zM535 259h1v1h-1zM535 262h1v1h-1zM535 263h1v1h-1zM535 266h1v1h-1zM535 267h1v1h-1zM535 270h1v1h-1zM535 271h1v1h-1zM535 274h1v1h-1zM535 275h1v1h-1zM535 278h1v1h-1zM535 279h1v1h-1zM535 282h1v1h-1zM535 283h1v1h-1zM535 286h1v1h-1zM535 287h1v1h-1zM535 290h1v1h-1zM535 291h1v1h-1zM535 294h1v1h-1zM535 295h1v1h-1zM535 298h1v1h-1zM535 299h1v1h-1zM535 302h1v1h-1zM535 303h1v1h-1zM535 306h1v1h-1zM535 307h1v1h-1zM535 310h1v1h-1zM535 311h1v1h-1zM535 314h1v1h-1zM535 315h1v1h-1zM535 318h1v1h-1zM535 319h1v1h-1zM535 322h1v1h-1zM535 323h1v1h-1zM535 326h1v1h-1zM535 327h1v1h-1zM535 330h1v1h-1zM535 331h1v1h-1zM535 334h1v1h-1zM535 335h1v1h-1zM535 338h1v1h-1zM535 339h1v1h-1zM535 342h1v1h-1zM535 343h1v1h-1zM535 346h1v1h-1zM535 347h1v1h-1zM535 350h1v1h-1zM535 351h1v1h-1zM535 354h1v1h-1zM535 355h1v1h-1zM535 358h1v1h-1zM535 359h1v1h-1zM535 362h1v1h-1zM535 363h1v1h-1zM535 366h1v1h-1zM535 367h1v1h-1zM535 370h1v1h-1zM535 371h1v1h-1zM535 374h1v1h-1zM535 375h1v1h-1zM535 378h1v1h-1zM535 379h1v1h-1zM535 382h1v1h-1zM535 383h1v1h-1zM535 386h1v1h-1zM535 387h1v1h-1zM535 390h1v1h-1zM535 391h1v1h-1zM535 394h1v1h-1zM535 395h1v1h-1zM535 398h1v1h-1zM535 399h1v1h-1zM535 402h1v1h-1zM535 403h1v1h-1zM535 406h1v1h-1zM535 407h1v1h-1zM535 410h1v1h-1zM535 411h1v1h-1zM535 414h1v1h-1zM535 415h1v1h-1zM535 418h1v1h-1zM535 419h1v1h-1zM535 422h1v1h-1zM535 423h1v1h-1zM535 426h1v1h-1zM535 427h1v1h-1zM535 430h1v1h-1zM535 431h1v1h-1zM535 434h1v1h-1zM535 435h1v1h-1zM535 438h1v1h-1zM535 439h1v1h-1zM535 442h1v1h-1zM535 443h1v1h-1zM535 446h1v1h-1zM535 447h1v1h-1zM535 450h1v1h-1zM535 451h1v1h-1zM535 454h1v1h-1zM535 455h1v1h-1zM535 458h1v1h-1zM535 459h1v1h-1zM535 462h1v1h-1zM535 463h1v1h-1zM535 466h1v1h-1zM535 467h1v1h-1zM535 470h1v1h-1zM535 471h1v1h-1zM535 474h1v1h-1zM535 475h1v1h-1zM535 478h1v1h-1zM535 479h1v1h-1zM535 482h1v1h-1zM535 483h1v1h-1zM535 486h1v1h-1zM535 487h1v1h-1zM535 490h1v1h-1zM535 491h1v1h-1zM535 494h1v1h-1zM535 495h1v1h-1zM535 498h1v1h-1zM535 499h1v1h-1zM535 502h1v1h-1zM535 503h1v1h-1zM535 506h1v1h-1zM535 507h1v1h-1zM535 510h1v1h-1zM535 511h1v1h-1zM535 514h1v1h-1zM535 515h1v1h-1zM535 518h1v1h-1zM535 519h1v1h-1zM535 522h1v1h-1zM535 523h1v1h-1zM535 526h1v1h-1zM535 527h1v1h-1zM535 530h1v1h-1zM535 531h1v1h-1zM535 534h1v1h-1zM535 535h1v1h-1zM535 538h1v1h-1zM535 539h1v1h-1zM535 542h1v1h-1zM535 543h1v1h-1zM535 546h1v1h-1zM535 547h1v1h-1zM535 550h1v1h-1zM535 551h1v1h-1zM535 554h1v1h-1zM535 555h1v1h-1zM535 558h1v1h-1zM535 559h1v1h-1zM535 562h1v1h-1zM535 563h1v1h-1zM535 566h1v1h-1zM535 567h1v1h-1zM535 570h1v1h-1zM535 571h1v1h-1zM535 574h1v1h-1zM535 575h1v1h-1zM535 578h1v1h-1zM535 579h1v1h-1zM535 582h1v1h-1zM535 583h1v1h-1zM535 586h1v1h-1zM535 587h1v1h-1zM535 590h1v1h-1zM535 591h1v1h-1zM535 594h1v1h-1zM535 595h1v1h-1zM535 598h1v1h-1zM535 599h1v1h-1zM535 602h1v1h-1zM535 603h1v1h-1zM535 606h1v1h-1zM535 607h1v1h-1zM535 610h1v1h-1zM535 611h1v1h-1zM535 614h1v1h-1zM535 615h1v1h-1zM535 618h1v1h-1zM535 619h1v1h-1zM535 622h1v1h-1zM535 623h1v1h-1zM535 626h1v1h-1zM535 627h1v1h-1zM535 630h1v1h-1zM535 631h1v1h-1zM535 634h1v1h-1zM535 635h1v1h-1zM535 638h1v1h-1zM535 639h1v1h-1zM535 642h1v1h-1zM535 643h1v1h-1zM535 646h1v1h-1zM535 647h1v1h-1zM535 650h1v1h-1zM535 651h1v1h-1zM535 654h1v1h-1zM535 655h1v1h-1zM535 658h1v1h-1zM535 659h1v1h-1zM535 662h1v1h-1zM535 663h1v1h-1zM535 666h1v1h-1zM535 667h1v1h-1zM535 670h1v1h-1zM535 671h1v1h-1zM535 674h1v1h-1zM535 675h1v1h-1zM535 678h1v1h-1zM535 679h1v1h-1zM535 682h1v1h-1zM535 683h1v1h-1zM535 686h1v1h-1zM535 687h1v1h-1zM535 690h1v1h-1zM535 691h1v1h-1zM535 694h1v1h-1zM535 695h1v1h-1zM535 698h1v1h-1zM535 699h1v1h-1zM535 702h1v1h-1zM535 703h1v1h-1zM535 706h1v1h-1zM535 707h1v1h-1zM535 710h1v1h-1zM535 711h1v1h-1zM535 714h1v1h-1zM535 715h1v1h-1zM535 718h1v1h-1zM535 719h1v1h-1zM650 46h1v1h-1zM650 47h1v1h-1zM650 50h1v1h-1zM650 51h1v1h-1zM650 54h1v1h-1zM650 55h1v1h-1zM650 58h1v1h-1zM650 59h1v1h-1zM650 62h1v1h-1zM650 63h1v1h-1zM650 66h1v1h-1zM650 67h1v1h-1zM650 70h1v1h-1zM650 71h1v1h-1zM650 74h1v1h-1zM650 75h1v1h-1zM650 78h1v1h-1zM650 79h1v1h-1zM650 82h1v1h-1zM650 83h1v1h-1zM650 86h1v1h-1zM650 87h1v1h-1zM650 90h1v1h-1zM650 91h1v1h-1zM650 94h1v1h-1zM650 95h1v1h-1zM650 98h1v1h-1zM650 99h1v1h-1zM650 102h1v1h-1zM650 103h1v1h-1zM650 106h1v1h-1zM650 107h1v1h-1zM650 110h1v1h-1zM650 111h1v1h-1zM650 114h1v1h-1zM650 115h1v1h-1zM650 118h1v1h-1zM650 119h1v1h-1zM650 122h1v1h-1zM650 123h1v1h-1zM650 126h1v1h-1zM650 127h1v1h-1zM650 130h1v1h-1zM650 131h1v1h-1zM650 134h1v1h-1zM650 135h1v1h-1zM650 138h1v1h-1zM650 139h1v1h-1zM650 142h1v1h-1zM650 143h1v1h-1zM650 146h1v1h-1zM650 147h1v1h-1zM650 150h1v1h-1zM650 151h1v1h-1zM650 154h1v1h-1zM650 155h1v1h-1zM650 158h1v1h-1zM650 159h1v1h-1zM650 162h1v1h-1zM650 163h1v1h-1zM650 166h1v1h-1zM650 167h1v1h-1zM650 170h1v1h-1zM650 171h1v1h-1zM650 174h1v1h-1zM650 175h1v1h-1zM650 178h1v1h-1zM650 179h1v1h-1zM650 182h1v1h-1zM650 183h1v1h-1zM650 186h1v1h-1zM650 187h1v1h-1zM650 190h1v1h-1zM650 191h1v1h-1zM650 194h1v1h-1zM650 195h1v1h-1zM650 198h1v1h-1zM650 199h1v1h-1zM650 202h1v1h-1zM650 203h1v1h-1zM650 206h1v1h-1zM650 207h1v1h-1zM650 210h1v1h-1zM650 211h1v1h-1zM650 214h1v1h-1zM650 215h1v1h-1zM650 218h1v1h-1zM650 219h1v1h-1zM650 222h1v1h-1zM650 223h1v1h-1zM650 226h1v1h-1zM650 227h1v1h-1zM650 230h1v1h-1zM650 231h1v1h-1zM650 234h1v1h-1zM650 235h1v1h-1zM650 238h1v1h-1zM650 239h1v1h-1zM650 242h1v1h-1zM650 243h1v1h-1zM650 246h1v1h-1zM650 247h1v1h-1zM650 250h1v1h-1zM650 251h1v1h-1zM650 254h1v1h-1zM650 255h1v1h-1zM650 258h1v1h-1zM650 259h1v1h-1zM650 262h1v1h-1zM650 263h1v1h-1zM650 266h1v1h-1zM650 267h1v1h-1zM650 270h1v1h-1zM650 271h1v1h-1zM650 274h1v1h-1zM650 275h1v1h-1zM650 278h1v1h-1zM650 279h1v1h-1zM650 282h1v1h-1zM650 283h1v1h-1zM650 286h1v1h-1zM650 287h1v1h-1zM650 290h1v1h-1zM650 291h1v1h-1zM650 294h1v1h-1zM650 295h1v1h-1zM650 298h1v1h-1zM650 299h1v1h-1zM650 302h1v1h-1zM650 303h1v1h-1zM650 306h1v1h-1zM650 307h1v1h-1zM650 310h1v1h-1zM650 311h1v1h-1zM650 314h1v1h-1zM650 315h1v1h-1zM650 318h1v1h-1zM650 319h1v1h-1zM650 322h1v1h-1zM650 323h1v1h-1zM650 326h1v1h-1zM650 327h1v1h-1zM650 330h1v1h-1zM650 331h1v1h-1zM650 334h1v1h-1zM650 335h1v1h-1zM650 338h1v1h-1zM650 339h1v1h-1zM650 342h1v1h-1zM650 343h1v1h-1zM650 346h1v1h-1zM650 347h1v1h-1zM650 350h1v1h-1zM650 351h1v1h-1zM650 354h1v1h-1zM650 355h1v1h-1zM650 358h1v1h-1zM650 359h1v1h-1zM650 362h1v1h-1zM650 363h1v1h-1zM650 366h1v1h-1zM650 367h1v1h-1zM650 370h1v1h-1zM650 371h1v1h-1zM650 374h1v1h-1zM650 375h1v1h-1zM650 378h1v1h-1zM650 379h1v1h-1zM650 382h1v1h-1zM650 383h1v1h-1zM650 386h1v1h-1zM650 387h1v1h-1zM650 390h1v1h-1zM650 391h1v1h-1zM650 394h1v1h-1zM650 395h1v1h-1zM650 398h1v1h-1zM650 399h1v1h-1zM650 402h1v1h-1zM650 403h1v1h-1zM650 406h1v1h-1zM650 407h1v1h-1zM650 410h1v1h-1zM650 411h1v1h-1zM650 414h1v1h-1zM650 415h1v1h-1zM650 418h1v1h-1zM650 419h1v1h-1zM650 422h1v1h-1zM650 423h1v1h-1zM650 426h1v1h-1zM650 427h1v1h-1zM650 430h1v1h-1zM650 431h1v1h-1zM650 434h1v1h-1zM650 435h1v1h-1zM650 438h1v1h-1zM650 439h1v1h-1zM650 442h1v1h-1zM650 443h1v1h-1zM650 446h1v1h-1zM650 447h1v1h-1zM650 450h1v1h-1zM650 451h1v1h-1zM650 454h1v1h-1zM650 455h1v1h-1zM650 458h1v1h-1zM650 459h1v1h-1zM650 462h1v1h-1zM650 463h1v1h-1zM650 466h1v1h-1zM650 467h1v1h-1zM650 470h1v1h-1zM650 471h1v1h-1zM650 474h1v1h-1zM650 475h1v1h-1zM650 478h1v1h-1zM650 479h1v1h-1zM650 482h1v1h-1zM650 483h1v1h-1zM650 486h1v1h-1zM650 487h1v1h-1zM650 490h1v1h-1zM650 491h1v1h-1zM650 494h1v1h-1zM650 495h1v1h-1zM650 498h1v1h-1zM650 499h1v1h-1zM650 502h1v1h-1zM650 503h1v1h-1zM650 506h1v1h-1zM650 507h1v1h-1zM650 510h1v1h-1zM650 511h1v1h-1zM650 514h1v1h-1zM650 515h1v1h-1zM650 518h1v1h-1zM650 519h1v1h-1zM650 522h1v1h-1zM650 523h1v1h-1zM650 526h1v1h-1zM650 527h1v1h-1zM650 530h1v1h-1zM650 531h1v1h-1zM650 534h1v1h-1zM650 535h1v1h-1zM650 538h1v1h-1zM650 539h1v1h-1zM650 542h1v1h-1zM650 543h1v1h-1zM650 546h1v1h-1zM650 547h1v1h-1zM650 550h1v1h-1zM650 551h1v1h-1zM650 554h1v1h-1zM650 555h1v1h-1zM650 558h1v1h-1zM650 559h1v1h-1zM650 562h1v1h-1zM650 563h1v1h-1zM650 566h1v1h-1zM650 567h1v1h-1zM650 570h1v1h-1zM650 571h1v1h-1zM650 574h1v1h-1zM650 575h1v1h-1zM650 578h1v1h-1zM650 579h1v1h-1zM650 582h1v1h-1zM650 583h1v1h-1zM650 586h1v1h-1zM650 587h1v1h-1zM650 590h1v1h-1zM650 591h1v1h-1zM650 594h1v1h-1zM650 595h1v1h-1zM650 598h1v1h-1zM650 599h1v1h-1zM650 602h1v1h-1zM650 603h1v1h-1zM650 606h1v1h-1zM650 607h1v1h-1zM650 610h1v1h-1zM650 611h1v1h-1zM650 614h1v1h-1zM650 615h1v1h-1zM650 618h1v1h-1zM650 619h1v1h-1zM650 622h1v1h-1zM650 623h1v1h-1zM650 626h1v1h-1zM650 627h1v1h-1zM650 630h1v1h-1zM650 631h1v1h-1zM650 634h1v1h-1zM650 635h1v1h-1zM650 638h1v1h-1zM650 639h1v1h-1zM650 642h1v1h-1zM650 643h1v1h-1zM650 646h1v1h-1zM650 647h1v1h-1zM650 650h1v1h-1zM650 651h1v1h-1zM650 654h1v1h-1zM650 655h1v1h-1zM650 658h1v1h-1zM650 659h1v1h-1zM650 662h1v1h-1zM650 663h1v1h-1zM650 666h1v1h-1zM650 667h1v1h-1zM650 670h1v1h-1zM650 671h1v1h-1zM650 674h1v1h-1zM650 675h1v1h-1zM650 678h1v1h-1zM650 679h1v1h-1zM650 682h1v1h-1zM650 683h1v1h-1zM650 686h1v1h-1zM650 687h1v1h-1zM650 690h1v1h-1zM650 691h1v1h-1zM650 694h1v1h-1zM650 695h1v1h-1zM650 698h1v1h-1zM650 699h1v1h-1zM650 702h1v1h-1zM650 703h1v1h-1zM650 706h1v1h-1zM650 707h1v1h-1zM650 710h1v1h-1zM650 711h1v1h-1zM650 714h1v1h-1zM650 715h1v1h-1zM650 718h1v1h-1zM650 719h1v1h-1zM765 46h1v1h-1zM765 47h1v1h-1zM765 50h1v1h-1zM765 51h1v1h-1zM765 54h1v1h-1zM765 55h1v1h-1zM765 58h1v1h-1zM765 59h1v1h-1zM765 62h1v1h-1zM765 63h1v1h-1zM765 66h1v1h-1zM765 67h1v1h-1zM765 70h1v1h-1zM765 71h1v1h-1zM765 74h1v1h-1zM765 75h1v1h-1zM765 78h1v1h-1zM765 79h1v1h-1zM765 82h1v1h-1zM765 83h1v1h-1zM765 86h1v1h-1zM765 87h1v1h-1zM765 90h1v1h-1zM765 91h1v1h-1zM765 94h1v1h-1zM765 95h1v1h-1zM765 98h1v1h-1zM765 99h1v1h-1zM765 102h1v1h-1zM765 103h1v1h-1zM765 106h1v1h-1zM765 107h1v1h-1zM765 110h1v1h-1zM765 111h1v1h-1zM765 114h1v1h-1zM765 115h1v1h-1zM765 118h1v1h-1zM765 119h1v1h-1zM765 122h1v1h-1zM765 123h1v1h-1zM765 126h1v1h-1zM765 127h1v1h-1zM765 130h1v1h-1zM765 131h1v1h-1zM765 134h1v1h-1zM765 135h1v1h-1zM765 138h1v1h-1zM765 139h1v1h-1zM765 142h1v1h-1zM765 143h1v1h-1zM765 146h1v1h-1zM765 147h1v1h-1zM765 150h1v1h-1zM765 151h1v1h-1zM765 154h1v1h-1zM765 155h1v1h-1zM765 158h1v1h-1zM765 159h1v1h-1zM765 162h1v1h-1zM765 163h1v1h-1zM765 166h1v1h-1zM765 167h1v1h-1zM765 170h1v1h-1zM765 171h1v1h-1zM765 174h1v1h-1zM765 175h1v1h-1zM765 178h1v1h-1zM765 179h1v1h-1zM765 182h1v1h-1zM765 183h1v1h-1zM765 186h1v1h-1zM765 187h1v1h-1zM765 190h1v1h-1zM765 191h1v1h-1zM765 194h1v1h-1zM765 195h1v1h-1zM765 198h1v1h-1zM765 199h1v1h-1zM765 202h1v1h-1zM765 203h1v1h-1zM765 206h1v1h-1zM765 207h1v1h-1zM765 210h1v1h-1zM765 211h1v1h-1zM765 214h1v1h-1zM765 215h1v1h-1zM765 218h1v1h-1zM765 219h1v1h-1zM765 222h1v1h-1zM765 223h1v1h-1zM765 226h1v1h-1zM765 227h1v1h-1zM765 230h1v1h-1zM765 231h1v1h-1zM765 234h1v1h-1zM765 235h1v1h-1zM765 238h1v1h-1zM765 239h1v1h-1zM765 242h1v1h-1zM765 243h1v1h-1zM765 246h1v1h-1zM765 247h1v1h-1zM765 250h1v1h-1zM765 251h1v1h-1zM765 254h1v1h-1zM765 255h1v1h-1zM765 258h1v1h-1zM765 259h1v1h-1zM765 262h1v1h-1zM765 263h1v1h-1zM765 266h1v1h-1zM765 267h1v1h-1zM765 270h1v1h-1zM765 271h1v1h-1zM765 274h1v1h-1zM765 275h1v1h-1zM765 278h1v1h-1zM765 279h1v1h-1zM765 282h1v1h-1zM765 283h1v1h-1zM765 286h1v1h-1zM765 287h1v1h-1zM765 290h1v1h-1zM765 291h1v1h-1zM765 294h1v1h-1zM765 295h1v1h-1zM765 298h1v1h-1zM765 299h1v1h-1zM765 302h1v1h-1zM765 303h1v1h-1zM765 306h1v1h-1zM765 307h1v1h-1zM765 310h1v1h-1zM765 311h1v1h-1zM765 314h1v1h-1zM765 315h1v1h-1zM765 318h1v1h-1zM765 319h1v1h-1zM765 322h1v1h-1zM765 323h1v1h-1zM765 326h1v1h-1zM765 327h1v1h-1zM765 330h1v1h-1zM765 331h1v1h-1zM765 334h1v1h-1zM765 335h1v1h-1zM765 338h1v1h-1zM765 339h1v1h-1zM765 342h1v1h-1zM765 343h1v1h-1zM765 346h1v1h-1zM765 347h1v1h-1zM765 350h1v1h-1zM765 351h1v1h-1zM765 354h1v1h-1zM765 355h1v1h-1zM765 358h1v1h-1zM765 359h1v1h-1zM765 362h1v1h-1zM765 363h1v1h-1zM765 366h1v1h-1zM765 367h1v1h-1zM765 370h1v1h-1zM765 371h1v1h-1zM765 374h1v1h-1zM765 375h1v1h-1zM765 378h1v1h-1zM765 379h1v1h-1zM765 382h1v1h-1zM765 383h1v1h-1zM765 386h1v1h-1zM765 387h1v1h-1zM765 390h1v1h-1zM765 391h1v1h-1zM765 394h1v1h-1zM765 395h1v1h-1zM765 398h1v1h-1zM765 399h1v1h-1zM765 402h1v1h-1zM765 403h1v1h-1zM765 406h1v1h-1zM765 407h1v1h-1zM765 410h1v1h-1zM765 411h1v1h-1zM765 414h1v1h-1zM765 415h1v1h-1zM765 418h1v1h-1zM765 419h1v1h-1zM765 422h1v1h-1zM765 423h1v1h-1zM765 426h1v1h-1zM765 427h1v1h-1zM765 430h1v1h-1zM765 431h1v1h-1zM765 434h1v1h-1zM765 435h1v1h-1zM765 438h1v1h-1zM765 439h1v1h-1zM765 442h1v1h-1zM765 443h1v1h-1zM765 446h1v1h-1zM765 447h1v1h-1zM765 450h1v1h-1zM765 451h1v1h-1zM765 454h1v1h-1zM765 455h1v1h-1zM765 458h1v1h-1zM765 459h1v1h-1zM765 462h1v1h-1zM765 463h1v1h-1zM765 466h1v1h-1zM765 467h1v1h-1zM765 470h1v1h-1zM765 471h1v1h-1zM765 474h1v1h-1zM765 475h1v1h-1zM765 478h1v1h-1zM765 479h1v1h-1zM765 482h1v1h-1zM765 483h1v1h-1zM765 486h1v1h-1zM765 487h1v1h-1zM765 490h1v1h-1zM765 491h1v1h-1zM765 494h1v1h-1zM765 495h1v1h-1zM765 498h1v1h-1zM765 499h1v1h-1zM765 502h1v1h-1zM765 503h1v1h-1zM765 506h1v1h-1zM765 507h1v1h-1zM765 510h1v1h-1zM765 511h1v1h-1zM765 514h1v1h-1zM765 515h1v1h-1zM765 518h1v1h-1zM765 519h1v1h-1zM765 522h1v1h-1zM765 523h1v1h-1zM765 526h1v1h-1zM765 527h1v1h-1zM765 530h1v1h-1zM765 531h1v1h-1zM765 534h1v1h-1zM765 535h1v1h-1zM765 538h1v1h-1zM765 539h1v1h-1zM765 542h1v1h-1zM765 543h1v1h-1zM765 546h1v1h-1zM765 547h1v1h-1zM765 550h1v1h-1zM765 551h1v1h-1zM765 554h1v1h-1zM765 555h1v1h-1zM765 558h1v1h-1zM765 559h1v1h-1zM765 562h1v1h-1zM765 563h1v1h-1zM765 566h1v1h-1zM765 567h1v1h-1zM765 570h1v1h-1zM765 571h1v1h-1zM765 574h1v1h-1zM765 575h1v1h-1zM765 578h1v1h-1zM765 579h1v1h-1zM765 582h1v1h-1zM765 583h1v1h-1zM765 586h1v1h-1zM765 587h1v1h-1zM765 590h1v1h-1zM765 591h1v1h-1zM765 594h1v1h-1zM765 595h1v1h-1zM765 598h1v1h-1zM765 599h1v1h-1zM765 602h1v1h-1zM765 603h1v1h-1zM765 606h1v1h-1zM765 607h1v1h-1zM765 610h1v1h-1zM765 611h1v1h-1zM765 614h1v1h-1zM765 615h1v1h-1zM765 618h1v1h-1zM765 619h1v1h-1zM765 622h1v1h-1zM765 623h1v1h-1zM765 626h1v1h-1zM765 627h1v1h-1zM765 630h1v1h-1zM765 631h1v1h-1zM765 634h1v1h-1zM765 635h1v1h-1zM765 638h1v1h-1zM765 639h1v1h-1zM765 642h1v1h-1zM765 643h1v1h-1zM765 646h1v1h-1zM765 647h1v1h-1zM765 650h1v1h-1zM765 651h1v1h-1zM765 654h1v1h-1zM765 655h1v1h-1zM765 658h1v1h-1zM765 659h1v1h-1zM765 662h1v1h-1zM765 663h1v1h-1zM765 666h1v1h-1zM765 667h1v1h-1zM765 670h1v1h-1zM765 671h1v1h-1zM765 674h1v1h-1zM765 675h1v1h-1zM765 678h1v1h-1zM765 679h1v1h-1zM765 682h1v1h-1zM765 683h1v1h-1zM765 686h1v1h-1zM765 687h1v1h-1zM765 690h1v1h-1zM765 691h1v1h-1zM765 694h1v1h-1zM765 695h1v1h-1zM765 698h1v1h-1zM765 699h1v1h-1zM765 702h1v1h-1zM765 703h1v1h-1zM765 706h1v1h-1zM765 707h1v1h-1zM765 710h1v1h-1zM765 711h1v1h-1zM765 714h1v1h-1zM765 715h1v1h-1zM765 718h1v1h-1zM765 719h1v1h-1zM881 46h1v1h-1zM881 47h1v1h-1zM881 50h1v1h-1zM881 51h1v1h-1zM881 54h1v1h-1zM881 55h1v1h-1zM881 58h1v1h-1zM881 59h1v1h-1zM881 62h1v1h-1zM881 63h1v1h-1zM881 66h1v1h-1zM881 67h1v1h-1zM881 70h1v1h-1zM881 71h1v1h-1zM881 74h1v1h-1zM881 75h1v1h-1zM881 78h1v1h-1zM881 79h1v1h-1zM881 82h1v1h-1zM881 83h1v1h-1zM881 86h1v1h-1zM881 87h1v1h-1zM881 90h1v1h-1zM881 91h1v1h-1zM881 94h1v1h-1zM881 95h1v1h-1zM881 98h1v1h-1zM881 99h1v1h-1zM881 102h1v1h-1zM881 103h1v1h-1zM881 106h1v1h-1zM881 107h1v1h-1zM881 110h1v1h-1zM881 111h1v1h-1zM881 114h1v1h-1zM881 115h1v1h-1zM881 118h1v1h-1zM881 119h1v1h-1zM881 122h1v1h-1zM881 123h1v1h-1zM881 126h1v1h-1zM881 127h1v1h-1zM881 130h1v1h-1zM881 131h1v1h-1zM881 134h1v1h-1zM881 135h1v1h-1zM881 138h1v1h-1zM881 139h1v1h-1zM881 142h1v1h-1zM881 143h1v1h-1zM881 146h1v1h-1zM881 147h1v1h-1zM881 150h1v1h-1zM881 151h1v1h-1zM881 154h1v1h-1zM881 155h1v1h-1zM881 158h1v1h-1zM881 159h1v1h-1zM881 162h1v1h-1zM881 163h1v1h-1zM881 166h1v1h-1zM881 167h1v1h-1zM881 170h1v1h-1zM881 171h1v1h-1zM881 174h1v1h-1zM881 175h1v1h-1zM881 178h1v1h-1zM881 179h1v1h-1zM881 182h1v1h-1zM881 183h1v1h-1zM881 186h1v1h-1zM881 187h1v1h-1zM881 190h1v1h-1zM881 191h1v1h-1zM881 194h1v1h-1zM881 195h1v1h-1zM881 198h1v1h-1zM881 199h1v1h-1zM881 202h1v1h-1zM881 203h1v1h-1zM881 206h1v1h-1zM881 207h1v1h-1zM881 210h1v1h-1zM881 211h1v1h-1zM881 214h1v1h-1zM881 215h1v1h-1zM881 218h1v1h-1zM881 219h1v1h-1zM881 222h1v1h-1zM881 223h1v1h-1zM881 226h1v1h-1zM881 227h1v1h-1zM881 230h1v1h-1zM881 231h1v1h-1zM881 234h1v1h-1zM881 235h1v1h-1zM881 238h1v1h-1zM881 239h1v1h-1zM881 242h1v1h-1zM881 243h1v1h-1zM881 246h1v1h-1zM881 247h1v1h-1zM881 250h1v1h-1zM881 251h1v1h-1zM881 254h1v1h-1zM881 255h1v1h-1zM881 258h1v1h-1zM881 259h1v1h-1zM881 262h1v1h-1zM881 263h1v1h-1zM881 266h1v1h-1zM881 267h1v1h-1zM881 270h1v1h-1zM881 271h1v1h-1zM881 274h1v1h-1zM881 275h1v1h-1zM881 278h1v1h-1zM881 279h1v1h-1zM881 282h1v1h-1zM881 283h1v1h-1zM881 286h1v1h-1zM881 287h1v1h-1zM881 290h1v1h-1zM881 291h1v1h-1zM881 294h1v1h-1zM881 295h1v1h-1zM881 298h1v1h-1zM881 299h1v1h-1zM881 302h1v1h-1zM881 303h1v1h-1zM881 306h1v1h-1zM881 307h1v1h-1zM881 310h1v1h-1zM881 311h1v1h-1zM881 314h1v1h-1zM881 315h1v1h-1zM881 318h1v1h-1zM881 319h1v1h-1zM881 322h1v1h-1zM881 323h1v1h-1zM881 326h1v1h-1zM881 327h1v1h-1zM881 330h1v1h-1zM881 331h1v1h-1zM881 334h1v1h-1zM881 335h1v1h-1zM881 338h1v1h-1zM881 339h1v1h-1zM881 342h1v1h-1zM881 343h1v1h-1zM881 346h1v1h-1zM881 347h1v1h-1zM881 350h1v1h-1zM881 351h1v1h-1zM881 354h1v1h-1zM881 355h1v1h-1zM881 358h1v1h-1zM881 359h1v1h-1zM881 362h1v1h-1zM881 363h1v1h-1zM881 366h1v1h-1zM881 367h1v1h-1zM881 370h1v1h-1zM881 371h1v1h-1zM881 374h1v1h-1zM881 375h1v1h-1zM881 378h1v1h-1zM881 379h1v1h-1zM881 382h1v1h-1zM881 383h1v1h-1zM881 386h1v1h-1zM881 387h1v1h-1zM881 390h1v1h-1zM881 391h1v1h-1zM881 394h1v1h-1zM881 395h1v1h-1zM881 398h1v1h-1zM881 399h1v1h-1zM881 402h1v1h-1zM881 403h1v1h-1zM881 406h1v1h-1zM881 407h1v1h-1zM881 410h1v1h-1zM881 411h1v1h-1zM881 414h1v1h-1zM881 415h1v1h-1zM881 418h1v1h-1zM881 419h1v1h-1zM881 422h1v1h-1zM881 423h1v1h-1zM881 426h1v1h-1zM881 427h1v1h-1zM881 430h1v1h-1zM881 431h1v1h-1zM881 434h1v1h-1zM881 435h1v1h-1zM881 438h1v1h-1zM881 439h1v1h-1zM881 442h1v1h-1zM881 443h1v1h-1zM881 446h1v1h-1zM881 447h1v1h-1zM881 450h1v1h-1zM881 451h1v1h-1zM881 454h1v1h-1zM881 455h1v1h-1zM881 458h1v1h-1zM881 459h1v1h-1zM881 462h1v1h-1zM881 463h1v1h-1zM881 466h1v1h-1zM881 467h1v1h-1zM881 470h1v1h-1zM881 471h1v1h-1zM881 474h1v1h-1zM881 475h1v1h-1zM881 478h1v1h-1zM881 479h1v1h-1zM881 482h1v1h-1zM881 483h1v1h-1zM881 486h1v1h-1zM881 487h1v1h-1zM881 490h1v1h-1zM881 491h1v1h-1zM881 494h1v1h-1zM881 495h1v1h-1zM881 498h1v1h-1zM881 499h1v1h-1zM881 502h1v1h-1zM881 503h1v1h-1zM881 506h1v1h-1zM881 507h1v1h-1zM881 510h1v1h-1zM881 511h1v1h-1zM881 514h1v1h-1zM881 515h1v1h-1zM881 518h1v1h-1zM881 519h1v1h-1zM881 522h1v1h-1zM881 523h1v1h-1zM881 526h1v1h-1zM881 527h1v1h-1zM881 530h1v1h-1zM881 531h1v1h-1zM881 534h1v1h-1zM881 535h1v1h-1zM881 538h1v1h-1zM881 539h1v1h-1zM881 542h1v1h-1zM881 543h1v1h-1zM881 546h1v1h-1zM881 547h1v1h-1zM881 550h1v1h-1zM881 551h1v1h-1zM881 554h1v1h-1zM881 555h1v1h-1zM881 558h1v1h-1zM881 559h1v1h-1zM881 562h1v1h-1zM881 563h1v1h-1zM881 566h1v1h-1zM881 567h1v1h-1zM881 570h1v1h-1zM881 571h1v1h-1zM881 574h1v1h-1zM881 575h1v1h-1zM881 578h1v1h-1zM881 579h1v1h-1zM881 582h1v1h-1zM881 583h1v1h-1zM881 586h1v1h-1zM881 587h1v1h-1zM881 590h1v1h-1zM881 591h1v1h-1zM881 594h1v1h-1zM881 595h1v1h-1zM881 598h1v1h-1zM881 599h1v1h-1zM881 602h1v1h-1zM881 603h1v1h-1zM881 606h1v1h-1zM881 607h1v1h-1zM881 610h1v1h-1zM881 611h1v1h-1zM881 614h1v1h-1zM881 615h1v1h-1zM881 618h1v1h-1zM881 619h1v1h-1zM881 622h1v1h-1zM881 623h1v1h-1zM881 626h1v1h-1zM881 627h1v1h-1zM881 630h1v1h-1zM881 631h1v1h-1zM881 634h1v1h-1zM881 635h1v1h-1zM881 638h1v1h-1zM881 639h1v1h-1zM881 642h1v1h-1zM881 643h1v1h-1zM881 646h1v1h-1zM881 647h1v1h-1zM881 650h1v1h-1zM881 651h1v1h-1zM881 654h1v1h-1zM881 655h1v1h-1zM881 658h1v1h-1zM881 659h1v1h-1zM881 662h1v1h-1zM881 663h1v1h-1zM881 666h1v1h-1zM881 667h1v1h-1zM881 670h1v1h-1zM881 671h1v1h-1zM881 674h1v1h-1zM881 675h1v1h-1zM881 678h1v1h-1zM881 679h1v1h-1zM881 682h1v1h-1zM881 683h1v1h-1zM881 686h1v1h-1zM881 687h1v1h-1zM881 690h1v1h-1zM881 691h1v1h-1zM881 694h1v1h-1zM881 695h1v1h-1zM881 698h1v1h-1zM881 699h1v1h-1zM881 702h1v1h-1zM881 703h1v1h-1zM881 706h1v1h-1zM881 707h1v1h-1zM881 710h1v1h-1zM881 711h1v1h-1zM881 714h1v1h-1zM881 715h1v1h-1zM881 718h1v1h-1zM881 719h1v1h-1z" fill="#a0a0a0" shape-rendering="crispEdges"/>
<path d="M154 79h1v54h-1zM155 133h1v106h-1zM156 239h1v106h-1zM157 345h1v106h-1zM158 451h1v106h-1zM159 557h1v53h-1zM160 605h1v3h-1zM161 602h1v3h-1zM162 599h1v3h-1zM163 596h1v3h-1zM164 593h1v3h-1zM165 572h1v21h-1zM166 532h1v40h-1zM167 493h1v39h-1zM168 454h1v39h-1zM169 414h1v40h-1zM170 375h1v39h-1zM171 339h1v36h-1zM172 305h1v34h-1zM173 271h1v34h-1zM174 237h1v34h-1zM175 203h1v34h-1zM176 169h1v34h-1zM177 152h1v17h-1zM178 159h1v14h-1zM179 173h1v14h-1zM180 187h1v13h-1zM181 200h1v14h-1zM182 214h1v14h-1zM183 228h1v16h-1zM184 244h1v16h-1zM185 260h1v16h-1zM186 276h1v16h-1zM187 292h1v16h-1zM188 308h1v8h-1zM189 295h1v14h-1zM190 282h1v13h-1zM191 268h1v14h-1zM192 255h1v13h-1zM193 241h1v14h-1zM194 234h1v7h-1zM195 237h1v6h-1zM196 243h1v5h-1zM197 248h1v5h-1zM198 253h1v6h-1zM199 259h1v5h-1zM200 264h1v19h-1zM201 283h1v33h-1zM202 316h1v33h-1zM203 349h1v32h-1zM204 381h1v33h-1zM205 411h1v20h-1zM206 372h1v39h-1zM207 333h1v39h-1zM208 295h1v38h-1zM209 256h1v39h-1zM210 217h1v39h-1zM211 197h1v20h-1zM212 207h1v18h-1zM213 225h1v18h-1zM214 243h1v18h-1zM215 261h1v18h-1zM216 279h1v18h-1zM217 297h1v9h-1zM218 283h1v15h-1zM219 268h1v15h-1zM220 254h1v14h-1zM221 239h1v15h-1zM222 224h1v15h-1zM223 216h1v36h-1zM224 252h1v70h-1zM225 322h1v70h-1zM226 392h1v70h-1zM227 462h1v70h-1zM228 532h1v70h-1zM229 602h1v36h-1zM230 628h1v6h-1zM231 621h1v7h-1zM232 614h1v7h-1zM233 608h1v6h-1zM234 567h1v41h-1zM235 493h1v74h-1zM236 419h1v74h-1zM237 345h1v74h-1zM238 271h1v74h-1zM239 197h1v74h-1zM240 160h1v37h-1zM241 178h1v34h-1zM242 212h1v34h-1zM243 246h1v35h-1zM244 281h1v34h-1zM245 315h1v34h-1zM246 349h1v19h-1zM247 368h1v3h-1zM248 371h1v3h-1zM249 374h1v2h-1zM250 376h1v3h-1zM251 379h1v3h-1zM252 379h1v5h-1zM253 370h1v9h-1zM254 360h1v10h-1zM255 351h1v9h-1zM256 342h1v9h-1zM257 331h1v11h-1zM258 318h1v13h-1zM259 305h1v13h-1zM260 293h1v12h-1zM261 280h1v13h-1zM262 267h1v13h-1zM263 258h1v9h-1zM264 252h1v6h-1zM265 246h1v6h-1zM266 241h1v5h-1zM267 235h1v6h-1zM268 229h1v6h-1zM269 226h1v8h-1zM270 234h1v16h-1zM271 250h1v15h-1zM272 265h1v16h-1zM273 281h1v15h-1zM274 296h1v16h-1zM275 312h1v8h-1zM276 297h1v15h-1zM277 282h1v15h-1zM278 267h1v15h-1zM279 252h1v15h-1zM280 244h1v23h-1zM281 267h1v45h-1zM282 312h1v45h-1zM283 357h1v45h-1zM284 402h1v45h-1zM285 447h1v45h-1zM286 492h1v26h-1zM287 518h1v7h-1zM288 525h1v6h-1zM289 531h1v7h-1zM290 538h1v7h-1zM291 545h1v6h-1zM292 551h1v4h-1zM293 548h1v4h-1zM294 543h1v5h-1zM295 539h1v4h-1zM296 534h1v5h-1zM297 530h1v4h-1zM298 527h1v5h-1zM299 532h1v9h-1zM300 541h1v9h-1zM301 550h1v9h-1zM302 559h1v9h-1zM303 568h1v9h-1zM304 577h1v5h-1zM305 582h1v1h-1zM306 583h1v1h-1zM307 584h1v1h-1zM308 585h1v1h-1zM309 560h1v27h-1zM310 507h1v53h-1zM311 454h1v53h-1zM312 402h1v52h-1zM313 349h1v53h-1zM314 296h1v53h-1zM315 266h1v30h-1zM316 260h1v6h-1zM317 254h1v6h-1zM318 247h1v7h-1zM319 241h1v6h-1zM320 235h1v6h-1zM321 231h1v4h-1zM322 231h1v1h-1zM323 231h1v1h-1zM324 231h1v1h-1zM325 231h1v1h-1zM326 231h1v1h-1zM327 231h1v13h-1zM328 244h1v26h-1zM329 270h1v25h-1zM330 295h1v25h-1zM331 320h1v26h-1zM332 346h1v13h-1zM333 338h1v14h-1zM334 324h1v14h-1zM335 311h1v13h-1zM336 297h1v14h-1zM337 283h1v14h-1zM338 276h1v12h-1zM339 288h1v22h-1zM340 310h1v22h-1zM341 332h1v22h-1zM342 354h1v22h-1zM343 376h1v22h-1zM344 398h1v23h-1zM345 421h1v25h-1zM346 446h1v25h-1zM347 471h1v25h-1zM348 496h1v25h-1zM349 521h1v25h-1zM350 531h1v28h-1zM351 475h1v56h-1zM352 419h1v56h-1zM353 363h1v56h-1zM354 307h1v56h-1zM355 279h1v28h-1zM356 281h1v2h-1zM357 283h1v2h-1zM358 285h1v2h-1zM359 287h1v2h-1zM360 289h1v2h-1zM361 291h1v3h-1zM362 294h1v4h-1zM363 298h1v3h-1zM364 301h1v3h-1zM365 304h1v4h-1zM366 308h1v3h-1zM367 311h1v6h-1zM368 317h1v9h-1zM369 326h1v8h-1zM370 334h1v9h-1zM371 343h1v9h-1zM372 352h1v8h-1zM373 360h1v7h-1zM374 367h1v4h-1zM375 371h1v4h-1zM376 375h1v4h-1zM377 379h1v4h-1zM378 383h1v4h-1zM379 387h1v8h-1zM380 395h1v12h-1zM381 407h1v11h-1zM382 418h1v11h-1zM383 429h1v12h-1zM384 441h1v12h-1zM385 453h1v12h-1zM386 465h1v12h-1zM387 477h1v12h-1zM388 489h1v12h-1zM389 501h1v12h-1zM390 505h1v14h-1zM391 477h1v28h-1zM392 450h1v27h-1zM393 422h1v28h-1zM394 395h1v27h-1zM395 367h1v28h-1zM396 353h1v14h-1zM397 358h1v9h-1zM398 367h1v8h-1zM399 375h1v9h-1zM400 384h1v9h-1zM401 393h1v8h-1zM402 396h1v10h-1zM403 376h1v20h-1zM404 357h1v19h-1zM405 338h1v19h-1zM406 318h1v20h-1zM407 306h1v12h-1zM408 302h1v4h-1zM409 298h1v4h-1zM410 293h1v5h-1zM411 289h1v4h-1zM412 285h1v4h-1zM413 277h1v8h-1zM414 267h1v10h-1zM415 257h1v10h-1zM416 246h1v11h-1zM417 236h1v10h-1zM418 226h1v10h-1zM419 220h1v6h-1zM420 221h1v1h-1zM421 221h1v1h-1zM422 222h1v1h-1zM423 223h1v1h-1zM424 223h1v1h-1zM425 224h1v2h-1zM426 226h1v3h-1zM427 229h1v3h-1zM428 232h1v3h-1zM429 235h1v3h-1zM430 238h1v3h-1zM431 241h1v2h-1zM432 243h1v2h-1zM433 245h1v2h-1zM434 247h1v2h-1zM435 249h1v2h-1zM436 249h1v4h-1zM437 243h1v6h-1zM438 236h1v7h-1zM439 230h1v6h-1zM440 223h1v7h-1zM441 217h1v6h-1zM442 213h1v4h-1zM443 217h1v8h-1zM444 225h1v8h-1zM445 233h1v7h-1zM446 240h1v8h-1zM447 248h1v8h-1zM448 256h1v22h-1zM449 278h1v37h-1zM450 315h1v37h-1zM451 352h1v38h-1zM452 390h1v37h-1zM453 427h1v37h-1zM454 464h1v33h-1zM455 497h1v29h-1zM456 526h1v29h-1zM457 555h1v29h-1zM458 584h1v29h-1zM459 593h1v35h-1zM460 523h1v70h-1zM461 453h1v70h-1zM462 384h1v69h-1zM463 314h1v70h-1zM464 244h1v70h-1zM465 209h1v35h-1zM466 215h1v10h-1zM467 225h1v10h-1zM468 235h1v10h-1zM469 245h1v10h-1zM470 255h1v10h-1zM471 265h1v6h-1zM472 270h1v1h-1zM473 271h1v1h-1zM474 271h1v1h-1zM475 272h1v1h-1zM476 272h1v1h-1zM477 264h1v10h-1zM478 245h1v19h-1zM479 226h1v19h-1zM480 208h1v18h-1zM481 189h1v19h-1zM482 179h1v42h-1zM483 221h1v82h-1zM484 303h1v83h-1zM485 386h1v82h-1zM486 468h1v83h-1zM487 551h1v82h-1zM488 632h1v43h-1zM489 546h1v86h-1zM490 460h1v86h-1zM491 375h1v85h-1zM492 289h1v86h-1zM493 203h1v86h-1zM494 160h1v43h-1zM495 169h1v17h-1zM496 186h1v17h-1zM497 203h1v18h-1zM498 221h1v17h-1zM499 238h1v17h-1zM500 255h1v45h-1zM501 300h1v72h-1zM502 372h1v72h-1zM503 444h1v72h-1zM504 516h1v72h-1zM505 588h1v36h-1zM506 611h1v8h-1zM507 603h1v8h-1zM508 595h1v8h-1zM509 587h1v8h-1zM510 579h1v8h-1zM511 570h1v9h-1zM512 560h1v10h-1zM513 551h1v9h-1zM514 542h1v9h-1zM515 532h1v10h-1zM516 523h1v9h-1zM517 494h1v29h-1zM518 444h1v50h-1zM519 395h1v49h-1zM520 346h1v49h-1zM521 296h1v50h-1zM522 247h1v49h-1zM523 222h1v25h-1zM524 231h1v17h-1zM525 248h1v17h-1zM526 265h1v17h-1zM527 282h1v17h-1zM528 299h1v17h-1zM529 316h1v35h-1zM530 351h1v52h-1zM531 403h1v53h-1zM532 456h1v53h-1zM533 509h1v52h-1zM534 561h1v27h-1zM535 582h1v4h-1zM536 578h1v4h-1zM537 575h1v3h-1zM538 571h1v4h-1zM539 567h1v4h-1zM540 550h1v17h-1zM541 520h1v30h-1zM542 489h1v31h-1zM543 459h1v30h-1zM544 428h1v31h-1zM545 398h1v30h-1zM546 379h1v19h-1zM547 372h1v7h-1zM548 365h1v7h-1zM549 359h1v6h-1zM550 352h1v7h-1zM551 345h1v7h-1zM552 341h1v23h-1zM553 364h1v46h-1zM554 410h1v45h-1zM555 455h1v45h-1zM556 500h1v46h-1zM557 546h1v31h-1zM558 577h1v16h-1zM559 593h1v17h-1zM560 610h1v16h-1zM561 626h1v17h-1zM562 643h1v16h-1zM563 659h1v9h-1zM564 668h1v2h-1zM565 670h1v1h-1zM566 671h1v1h-1zM567 672h1v2h-1zM568 674h1v1h-1zM569 631h1v45h-1zM570 542h1v89h-1zM571 453h1v89h-1zM572 363h1v90h-1zM573 274h1v89h-1zM574 185h1v89h-1zM575 140h1v45h-1zM576 160h1v39h-1zM577 199h1v40h-1zM578 239h1v39h-1zM579 278h1v39h-1zM580 317h1v20h-1zM581 303h1v22h-1zM582 281h1v22h-1zM583 259h1v22h-1zM584 237h1v22h-1zM585 215h1v22h-1zM586 200h1v15h-1zM587 190h1v10h-1zM588 181h1v9h-1zM589 171h1v10h-1zM590 162h1v9h-1zM591 152h1v10h-1zM592 145h1v7h-1zM593 140h1v5h-1zM594 135h1v5h-1zM595 130h1v5h-1zM596 125h1v5h-1zM597 120h1v5h-1zM598 117h1v3h-1zM599 120h1v5h-1zM600 125h1v5h-1zM601 130h1v4h-1zM602 134h1v5h-1zM603 139h1v5h-1zM604 144h1v3h-1zM605 138h1v6h-1zM606 132h1v6h-1zM607 127h1v5h-1zM608 121h1v6h-1zM609 117h1v4h-1zM610 114h1v3h-1zM611 112h1v2h-1zM612 109h1v3h-1zM613 106h1v3h-1zM614 104h1v2h-1zM615 102h1v41h-1zM616 143h1v80h-1zM617 223h1v80h-1zM618 303h1v80h-1zM619 383h1v80h-1zM620 463h1v80h-1zM621 542h1v42h-1zM622 458h1v84h-1zM623 374h1v84h-1zM624 290h1v84h-1zM625 206h1v84h-1zM626 122h1v84h-1zM627 80h1v42h-1zM628 119h1v78h-1zM629 197h1v78h-1zM630 275h1v77h-1zM631 352h1v78h-1zM632 430h1v39h-1zM633 435h1v22h-1zM634 413h1v22h-1zM635 391h1v22h-1zM636 369h1v22h-1zM637 347h1v22h-1zM638 335h1v26h-1zM639 361h1v51h-1zM640 412h1v51h-1zM641 463h1v52h-1zM642 515h1v51h-1zM643 566h1v51h-1zM644 617h1v26h-1zM645 617h1v17h-1zM646 600h1v17h-1zM647 583h1v17h-1zM648 566h1v17h-1zM649 549h1v17h-1zM650 534h1v15h-1zM651 522h1v12h-1zM652 510h1v12h-1zM653 498h1v12h-1zM654 486h1v12h-1zM655 454h1v32h-1zM656 402h1v52h-1zM657 350h1v52h-1zM658 297h1v53h-1zM659 245h1v52h-1zM660 193h1v52h-1zM661 166h1v27h-1zM662 170h1v6h-1zM663 176h1v6h-1zM664 182h1v6h-1zM665 188h1v6h-1zM666 194h1v6h-1zM667 200h1v43h-1zM668 243h1v80h-1zM669 323h1v79h-1zM670 402h1v79h-1zM671 481h1v80h-1zM672 561h1v79h-1zM673 640h1v40h-1zM674 649h1v20h-1zM675 628h1v21h-1zM676 607h1v21h-1zM677 587h1v20h-1zM678 549h1v38h-1zM679 493h1v56h-1zM680 437h1v56h-1zM681 381h1v56h-1zM682 325h1v56h-1zM683 269h1v56h-1zM684 241h1v28h-1zM685 242h1v2h-1zM686 244h1v1h-1zM687 245h1v1h-1zM688 246h1v2h-1zM689 248h1v1h-1zM690 249h1v8h-1zM691 257h1v15h-1zM692 272h1v15h-1zM693 287h1v14h-1zM694 301h1v15h-1zM695 316h1v15h-1zM696 331h1v24h-1zM697 355h1v32h-1zM698 387h1v32h-1zM699 419h1v33h-1zM700 452h1v32h-1zM701 484h1v32h-1zM702 504h1v29h-1zM703 448h1v56h-1zM704 392h1v56h-1zM705 336h1v56h-1zM706 280h1v56h-1zM707 251h1v29h-1zM708 256h1v10h-1zM709 266h1v10h-1zM710 276h1v10h-1zM711 286h1v10h-1zM712 296h1v10h-1zM713 306h1v8h-1zM714 314h1v8h-1zM715 322h1v8h-1zM716 330h1v8h-1zM717 338h1v8h-1zM718 346h1v8h-1zM719 354h1v4h-1zM720 347h1v7h-1zM721 340h1v7h-1zM722 332h1v8h-1zM723 325h1v7h-1zM724 318h1v7h-1zM725 307h1v11h-1zM726 291h1v16h-1zM727 275h1v16h-1zM728 260h1v15h-1zM729 244h1v16h-1zM730 236h1v20h-1zM731 256h1v38h-1zM732 294h1v39h-1zM733 333h1v38h-1zM734 371h1v39h-1zM735 410h1v38h-1zM736 436h1v32h-1zM737 372h1v64h-1zM738 309h1v63h-1zM739 246h1v63h-1zM740 182h1v64h-1zM741 119h1v63h-1zM742 87h1v46h-1zM743 133h1v92h-1zM744 225h1v91h-1zM745 316h1v92h-1zM746 408h1v91h-1zM747 499h1v92h-1zM748 591h1v46h-1zM749 512h1v83h-1zM750 428h1v84h-1zM751 345h1v83h-1zM752 262h1v83h-1zM753 220h1v42h-1zM754 221h1v2h-1zM755 223h1v1h-1zM756 224h1v2h-1zM757 226h1v1h-1zM758 227h1v2h-1zM759 229h1v29h-1zM760 258h1v56h-1zM761 314h1v56h-1zM762 370h1v57h-1zM763 427h1v56h-1zM764 483h1v56h-1zM765 539h1v37h-1zM766 576h1v16h-1zM767 592h1v16h-1zM768 608h1v17h-1zM769 625h1v16h-1zM770 641h1v16h-1zM771 654h1v12h-1zM772 631h1v23h-1zM773 608h1v23h-1zM774 585h1v23h-1zM775 562h1v23h-1zM776 539h1v23h-1zM777 519h1v20h-1zM778 501h1v18h-1zM779 483h1v18h-1zM780 465h1v18h-1zM781 447h1v18h-1zM782 419h1v28h-1zM783 380h1v39h-1zM784 341h1v39h-1zM785 302h1v39h-1zM786 263h1v39h-1zM787 224h1v39h-1zM788 204h1v20h-1zM789 210h1v12h-1zM790 222h1v11h-1zM791 233h1v12h-1zM792 245h1v11h-1zM793 256h1v12h-1zM794 268h1v8h-1zM795 276h1v4h-1zM796 280h1v4h-1zM797 284h1v4h-1zM798 288h1v4h-1zM799 292h1v4h-1zM800 289h1v10h-1zM801 269h1v20h-1zM802 250h1v19h-1zM803 231h1v19h-1zM804 211h1v20h-1zM805 197h1v14h-1zM806 187h1v10h-1zM807 177h1v10h-1zM808 168h1v9h-1zM809 158h1v10h-1zM810 148h1v10h-1zM811 143h1v7h-1zM812 150h1v13h-1zM813 163h1v13h-1zM814 176h1v12h-1zM815 188h1v13h-1zM816 201h1v13h-1zM817 214h1v12h-1zM818 226h1v10h-1zM819 236h1v10h-1zM820 246h1v10h-1zM821 256h1v10h-1zM822 266h1v10h-1zM823 276h1v8h-1zM824 284h1v6h-1zM825 290h1v6h-1zM826 296h1v6h-1zM827 302h1v6h-1zM828 308h1v3h-1zM829 306h1v3h-1zM830 303h1v3h-1zM831 300h1v3h-1zM832 297h1v3h-1zM833 294h1v3h-1zM834 292h1v3h-1zM835 295h1v4h-1zM836 299h1v4h-1zM837 303h1v4h-1zM838 307h1v4h-1zM839 311h1v4h-1zM840 315h1v3h-1zM841 316h1v1h-1zM842 316h1v1h-1zM843 315h1v1h-1zM844 314h1v1h-1zM845 314h1v1h-1zM846 312h1v2h-1zM847 308h1v4h-1zM848 304h1v4h-1zM849 301h1v3h-1zM850 297h1v4h-1zM851 293h1v4h-1zM852 282h1v11h-1zM853 264h1v18h-1zM854 245h1v19h-1zM855 226h1v19h-1zM856 208h1v18h-1zM857 197h1v11h-1zM858 195h1v2h-1zM859 192h1v3h-1zM860 190h1v2h-1zM861 187h1v3h-1zM862 185h1v2h-1zM863 183h1v34h-1zM864 217h1v67h-1zM865 284h1v66h-1zM866 350h1v67h-1zM867 417h1v67h-1zM868 484h1v66h-1zM869 550h1v34h-1zM870 557h1v18h-1zM871 539h1v18h-1zM872 521h1v18h-1zM873 503h1v18h-1zM874 485h1v18h-1zM875 476h1v9h-1zM876 476h1v1h-1zM877 476h1v1h-1zM878 477h1v1h-1zM879 477h1v1h-1zM880 469h1v9h-1zM881 453h1v16h-1zM882 436h1v17h-1zM883 420h1v16h-1zM884 403h1v17h-1zM885 387h1v16h-1zM886 378h1v9h-1zM887 379h1v1h-1zM888 379h1v1h-1zM889 380h1v1h-1zM890 381h1v1h-1zM891 381h1v1h-1zM892 382h1v1h-1z" fill="#9400d3" shape-rendering="crispEdges"/>
<path d="M73 45h924v1h-924zM73 719h924v1h-924zM73 45h1v675h-1zM996 45h1v675h-1zM73 45h8v1h-8zM989 45h8v1h-8zM73 712h1v8h-1zM73 45h1v8h-1zM73 129h8v1h-8zM989 129h8v1h-8zM188 712h1v8h-1zM188 45h1v8h-1zM73 213h8v1h-8zM989 213h8v1h-8zM304 712h1v8h-1zM304 45h1v8h-1zM73 298h8v1h-8zM989 298h8v1h-8zM419 712h1v8h-1zM419 45h1v8h-1zM73 382h8v1h-8zM989 382h8v1h-8zM535 712h1v8h-1zM535 45h1v8h-1zM73 466h8v1h-8zM989 466h8v1h-8zM650 712h1v8h-1zM650 45h1v8h-1zM73 550h8v1h-8zM989 550h8v1h-8zM765 712h1v8h-1zM765 45h1v8h-1zM73 635h8v1h-8zM989 635h8v1h-8zM881 712h1v8h-1zM881 45h1v8h-1zM73 719h8v1h-8zM989 719h8v1h-8zM996 712h1v8h-1zM996 45h1v8h-1z" fill="#000" shape-rendering="crispEdges"/>
<g opacity="0.999" text-rendering="geometricPrecision">
<text x="63.9" y="49" text-anchor="end">200</text>
<text x="63.9" y="133" text-anchor="end">150</text>
<text x="63.9" y="217" text-anchor="end">100</text>
<text x="63.9" y="302" text-anchor="end">50</text>
<text x="63.9" y="386" text-anchor="end">0</text>
<text x="63.9" y="470" text-anchor="end">-50</text>
<text x="63.9" y="554" text-anchor="end">-100</text>
<text x="63.9" y="639" text-anchor="end">-150</text>
<text x="63.9" y="723" text-anchor="end">-200</text>
<text x="74.9" y="737.8" text-anchor="middle">8380</text>
<text x="189.9" y="737.8" text-anchor="middle">8385</text>
<text x="305.9" y="737.8" text-anchor="middle">8390</text>
<text x="420.9" y="737.8" text-anchor="middle">8395</text>
<text x="536.9" y="737.8" text-anchor="middle">8400</text>
<text x="651.9" y="737.8" text-anchor="middle">8405</text>
<text x="766.9" y="737.8" text-anchor="middle">8410</text>
<text x="882.9" y="737.8" text-anchor="middle">8415</text>
<text x="997.9" y="737.8" text-anchor="middle">8420</text>
<text x="534.0" y="27" text-anchor="middle">Mc-Wb</text>
<text x="534.8" y="760" text-anchor="middle">Freq [MHz]</text>
<text transform="translate(17.2 381) rotate(-90)" text-anchor="middle">Phase</text>
</g>
</svg>
</body></html>
